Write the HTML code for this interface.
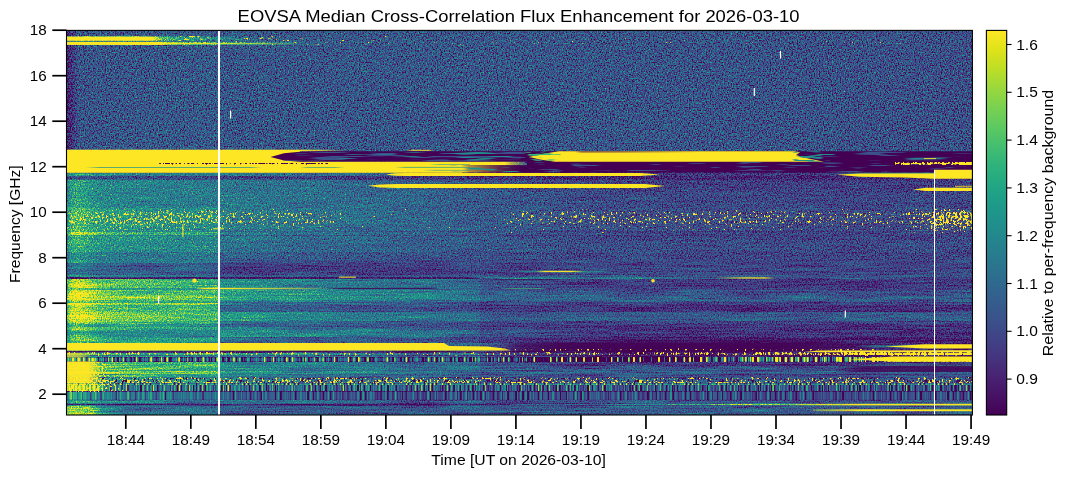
<!DOCTYPE html>
<html><head><meta charset="utf-8"><title>EOVSA Median Cross-Correlation Flux Enhancement</title>
<style>
html,body{margin:0;padding:0;background:#fff;}
body{width:1067px;height:477px;overflow:hidden;font-family:"Liberation Sans",sans-serif;}
svg{display:block;}
text{font-family:"Liberation Sans",sans-serif;fill:#000;}
#lbl{opacity:0.999;}
</style></head><body>
<svg width="1067" height="477" viewBox="0 0 1067 477">
<defs>
<linearGradient id="cbar" x1="0" y1="1" x2="0" y2="0">
<stop offset="0.00" stop-color="#440154"/>
<stop offset="0.05" stop-color="#471265"/>
<stop offset="0.10" stop-color="#482374"/>
<stop offset="0.15" stop-color="#45347f"/>
<stop offset="0.20" stop-color="#404387"/>
<stop offset="0.25" stop-color="#3a528b"/>
<stop offset="0.30" stop-color="#345e8d"/>
<stop offset="0.35" stop-color="#2e6b8e"/>
<stop offset="0.40" stop-color="#29788e"/>
<stop offset="0.45" stop-color="#24848d"/>
<stop offset="0.50" stop-color="#20908c"/>
<stop offset="0.55" stop-color="#1e9b89"/>
<stop offset="0.60" stop-color="#22a784"/>
<stop offset="0.65" stop-color="#2fb37b"/>
<stop offset="0.70" stop-color="#44be70"/>
<stop offset="0.75" stop-color="#5ec961"/>
<stop offset="0.80" stop-color="#79d151"/>
<stop offset="0.85" stop-color="#9ad83c"/>
<stop offset="0.90" stop-color="#bdde26"/>
<stop offset="0.95" stop-color="#dfe318"/>
<stop offset="1.00" stop-color="#fde724"/>
</linearGradient>
<clipPath id="axclip"><rect x="66.5" y="30.4" width="905.9" height="384.6"/></clipPath>
<linearGradient id="g1" gradientUnits="userSpaceOnUse" x1="66.5" y1="0" x2="972.4" y2="0"><stop offset="0.0006" stop-color="#141414"/><stop offset="0.0061" stop-color="#242424"/><stop offset="0.0127" stop-color="#424242"/><stop offset="0.1683" stop-color="#474747"/><stop offset="0.1694" stop-color="#444444"/><stop offset="0.4565" stop-color="#444444"/><stop offset="0.6993" stop-color="#424242"/><stop offset="0.9996" stop-color="#3d3d3d"/></linearGradient>
<linearGradient id="g2" gradientUnits="userSpaceOnUse" x1="66.5" y1="0" x2="972.4" y2="0"><stop offset="0.0006" stop-color="#ffffff"/><stop offset="0.0922" stop-color="#ffffff"/><stop offset="0.1010" stop-color="#cccccc"/><stop offset="0.1198" stop-color="#9e9e9e"/><stop offset="0.1529" stop-color="#808080"/><stop offset="0.1915" stop-color="#616161"/><stop offset="0.2302" stop-color="#474747"/><stop offset="0.9996" stop-color="#404040"/></linearGradient>
<linearGradient id="g3" gradientUnits="userSpaceOnUse" x1="66.5" y1="0" x2="972.4" y2="0"><stop offset="0.0006" stop-color="#595959"/><stop offset="0.0922" stop-color="#595959"/><stop offset="0.1474" stop-color="#4c4c4c"/><stop offset="0.9996" stop-color="#404040"/></linearGradient>
<linearGradient id="g4" gradientUnits="userSpaceOnUse" x1="66.5" y1="0" x2="972.4" y2="0"><stop offset="0.0006" stop-color="#ffffff"/><stop offset="0.1010" stop-color="#ffffff"/><stop offset="0.1120" stop-color="#d9d9d9"/><stop offset="0.1639" stop-color="#a8a8a8"/><stop offset="0.2136" stop-color="#858585"/><stop offset="0.2578" stop-color="#5c5c5c"/><stop offset="0.3019" stop-color="#474747"/><stop offset="0.9996" stop-color="#3d3d3d"/></linearGradient>
<linearGradient id="g5" gradientUnits="userSpaceOnUse" x1="66.5" y1="0" x2="972.4" y2="0"><stop offset="0.0006" stop-color="#666666"/><stop offset="0.0039" stop-color="#838383"/><stop offset="0.0116" stop-color="#949494"/><stop offset="0.0215" stop-color="#888888"/><stop offset="0.0370" stop-color="#757575"/><stop offset="0.0922" stop-color="#6b6b6b"/><stop offset="0.1682" stop-color="#666666"/><stop offset="0.1683" stop-color="#676767"/><stop offset="0.2136" stop-color="#606060"/><stop offset="0.2578" stop-color="#5c5c5c"/><stop offset="0.3681" stop-color="#4e4e4e"/><stop offset="0.4565" stop-color="#404040"/><stop offset="0.5889" stop-color="#2c2c2c"/><stop offset="0.6993" stop-color="#2b2b2b"/><stop offset="0.8759" stop-color="#292929"/><stop offset="0.9996" stop-color="#2b2b2b"/></linearGradient>
<linearGradient id="g6" gradientUnits="userSpaceOnUse" x1="66.5" y1="0" x2="972.4" y2="0"><stop offset="0.0006" stop-color="#373737"/><stop offset="0.0039" stop-color="#3c3c3c"/><stop offset="0.0116" stop-color="#3f3f3f"/><stop offset="0.0215" stop-color="#3d3d3d"/><stop offset="0.0370" stop-color="#3a3a3a"/><stop offset="0.0922" stop-color="#383838"/><stop offset="0.1682" stop-color="#373737"/><stop offset="0.1683" stop-color="#313131"/><stop offset="0.2136" stop-color="#2e2e2e"/><stop offset="0.2578" stop-color="#2b2b2b"/><stop offset="0.3681" stop-color="#262626"/><stop offset="0.4565" stop-color="#212121"/><stop offset="0.5889" stop-color="#1a1a1a"/><stop offset="0.6993" stop-color="#1a1a1a"/><stop offset="0.8759" stop-color="#181818"/><stop offset="0.9996" stop-color="#1a1a1a"/></linearGradient>
<linearGradient id="g7" gradientUnits="userSpaceOnUse" x1="66.5" y1="0" x2="972.4" y2="0"><stop offset="0.0006" stop-color="#696969"/><stop offset="0.0039" stop-color="#868686"/><stop offset="0.0116" stop-color="#979797"/><stop offset="0.0215" stop-color="#8b8b8b"/><stop offset="0.0370" stop-color="#787878"/><stop offset="0.0922" stop-color="#6e6e6e"/><stop offset="0.1682" stop-color="#696969"/><stop offset="0.1683" stop-color="#676767"/><stop offset="0.2136" stop-color="#606060"/><stop offset="0.2578" stop-color="#5c5c5c"/><stop offset="0.3681" stop-color="#4f4f4f"/><stop offset="0.4565" stop-color="#434343"/><stop offset="0.5889" stop-color="#313131"/><stop offset="0.6993" stop-color="#303030"/><stop offset="0.8759" stop-color="#2e2e2e"/><stop offset="0.9996" stop-color="#303030"/></linearGradient>
<linearGradient id="g8" gradientUnits="userSpaceOnUse" x1="66.5" y1="0" x2="972.4" y2="0"><stop offset="0.0006" stop-color="#696969"/><stop offset="0.0039" stop-color="#868686"/><stop offset="0.0116" stop-color="#979797"/><stop offset="0.0215" stop-color="#8b8b8b"/><stop offset="0.0370" stop-color="#787878"/><stop offset="0.0922" stop-color="#6e6e6e"/><stop offset="0.1682" stop-color="#696969"/><stop offset="0.1683" stop-color="#6a6a6a"/><stop offset="0.2136" stop-color="#636363"/><stop offset="0.2578" stop-color="#5e5e5e"/><stop offset="0.3681" stop-color="#535353"/><stop offset="0.4565" stop-color="#484848"/><stop offset="0.5889" stop-color="#393939"/><stop offset="0.6993" stop-color="#383838"/><stop offset="0.8759" stop-color="#353535"/><stop offset="0.9996" stop-color="#383838"/></linearGradient>
<linearGradient id="g9" gradientUnits="userSpaceOnUse" x1="66.5" y1="0" x2="972.4" y2="0"><stop offset="0.0006" stop-color="#797979"/><stop offset="0.0039" stop-color="#9f9f9f"/><stop offset="0.0116" stop-color="#b5b5b5"/><stop offset="0.0215" stop-color="#a6a6a6"/><stop offset="0.0370" stop-color="#8c8c8c"/><stop offset="0.0922" stop-color="#808080"/><stop offset="0.1682" stop-color="#797979"/><stop offset="0.1683" stop-color="#6d6d6d"/><stop offset="0.2136" stop-color="#666666"/><stop offset="0.2578" stop-color="#616161"/><stop offset="0.3681" stop-color="#565656"/><stop offset="0.4565" stop-color="#4a4a4a"/><stop offset="0.5889" stop-color="#3c3c3c"/><stop offset="0.6993" stop-color="#3b3b3b"/><stop offset="0.8759" stop-color="#383838"/><stop offset="0.9996" stop-color="#3b3b3b"/></linearGradient>
<linearGradient id="g10" gradientUnits="userSpaceOnUse" x1="66.5" y1="0" x2="972.4" y2="0"><stop offset="0.0006" stop-color="#7a7a7a"/><stop offset="0.0039" stop-color="#999999"/><stop offset="0.0116" stop-color="#aaaaaa"/><stop offset="0.0215" stop-color="#9e9e9e"/><stop offset="0.0370" stop-color="#8a8a8a"/><stop offset="0.0922" stop-color="#808080"/><stop offset="0.1682" stop-color="#7a7a7a"/><stop offset="0.1683" stop-color="#676767"/><stop offset="0.2136" stop-color="#606060"/><stop offset="0.2578" stop-color="#5c5c5c"/><stop offset="0.3681" stop-color="#515151"/><stop offset="0.4565" stop-color="#464646"/><stop offset="0.5889" stop-color="#373737"/><stop offset="0.6993" stop-color="#363636"/><stop offset="0.8759" stop-color="#333333"/><stop offset="0.9996" stop-color="#363636"/></linearGradient>
<linearGradient id="g11" gradientUnits="userSpaceOnUse" x1="66.5" y1="0" x2="972.4" y2="0"><stop offset="0.0006" stop-color="#999999"/><stop offset="0.0039" stop-color="#d4d4d4"/><stop offset="0.0116" stop-color="#f5f5f5"/><stop offset="0.0215" stop-color="#dedede"/><stop offset="0.0370" stop-color="#b7b7b7"/><stop offset="0.0922" stop-color="#a3a3a3"/><stop offset="0.1682" stop-color="#999999"/><stop offset="0.1683" stop-color="#6d6d6d"/><stop offset="0.2136" stop-color="#666666"/><stop offset="0.2578" stop-color="#616161"/><stop offset="0.3681" stop-color="#555555"/><stop offset="0.4565" stop-color="#494949"/><stop offset="0.5889" stop-color="#393939"/><stop offset="0.6993" stop-color="#383838"/><stop offset="0.8759" stop-color="#353535"/><stop offset="0.9996" stop-color="#383838"/></linearGradient>
<linearGradient id="g12" gradientUnits="userSpaceOnUse" x1="66.5" y1="0" x2="972.4" y2="0"><stop offset="0.0006" stop-color="#767676"/><stop offset="0.0039" stop-color="#939393"/><stop offset="0.0116" stop-color="#a4a4a4"/><stop offset="0.0215" stop-color="#989898"/><stop offset="0.0370" stop-color="#848484"/><stop offset="0.0922" stop-color="#7a7a7a"/><stop offset="0.1682" stop-color="#767676"/><stop offset="0.1683" stop-color="#616161"/><stop offset="0.2136" stop-color="#5b5b5b"/><stop offset="0.2578" stop-color="#575757"/><stop offset="0.3681" stop-color="#4e4e4e"/><stop offset="0.4565" stop-color="#464646"/><stop offset="0.5889" stop-color="#3c3c3c"/><stop offset="0.6993" stop-color="#3b3b3b"/><stop offset="0.8759" stop-color="#383838"/><stop offset="0.9996" stop-color="#3b3b3b"/></linearGradient>
<linearGradient id="g13" gradientUnits="userSpaceOnUse" x1="66.5" y1="0" x2="972.4" y2="0"><stop offset="0.0006" stop-color="#636363"/><stop offset="0.0039" stop-color="#757575"/><stop offset="0.0116" stop-color="#808080"/><stop offset="0.0215" stop-color="#787878"/><stop offset="0.0370" stop-color="#6c6c6c"/><stop offset="0.0922" stop-color="#666666"/><stop offset="0.1682" stop-color="#636363"/><stop offset="0.1683" stop-color="#505050"/><stop offset="0.2136" stop-color="#4b4b4b"/><stop offset="0.2578" stop-color="#474747"/><stop offset="0.3681" stop-color="#424242"/><stop offset="0.4565" stop-color="#3c3c3c"/><stop offset="0.5889" stop-color="#373737"/><stop offset="0.6993" stop-color="#363636"/><stop offset="0.8759" stop-color="#333333"/><stop offset="0.9996" stop-color="#363636"/></linearGradient>
<linearGradient id="g14" gradientUnits="userSpaceOnUse" x1="66.5" y1="0" x2="972.4" y2="0"><stop offset="0.0006" stop-color="#666666"/><stop offset="0.0039" stop-color="#868686"/><stop offset="0.0116" stop-color="#989898"/><stop offset="0.0215" stop-color="#8b8b8b"/><stop offset="0.0370" stop-color="#767676"/><stop offset="0.0922" stop-color="#6b6b6b"/><stop offset="0.1682" stop-color="#666666"/><stop offset="0.1683" stop-color="#454545"/><stop offset="0.2136" stop-color="#404040"/><stop offset="0.2578" stop-color="#3d3d3d"/><stop offset="0.3681" stop-color="#3b3b3b"/><stop offset="0.4565" stop-color="#393939"/><stop offset="0.5889" stop-color="#393939"/><stop offset="0.6993" stop-color="#383838"/><stop offset="0.8759" stop-color="#353535"/><stop offset="0.9996" stop-color="#383838"/></linearGradient>
<linearGradient id="g15" gradientUnits="userSpaceOnUse" x1="66.5" y1="0" x2="972.4" y2="0"><stop offset="0.0006" stop-color="#444444"/><stop offset="0.0039" stop-color="#595959"/><stop offset="0.0116" stop-color="#656565"/><stop offset="0.0215" stop-color="#5d5d5d"/><stop offset="0.0370" stop-color="#4f4f4f"/><stop offset="0.0922" stop-color="#474747"/><stop offset="0.1682" stop-color="#444444"/><stop offset="0.1683" stop-color="#313131"/><stop offset="0.2136" stop-color="#2e2e2e"/><stop offset="0.2578" stop-color="#2b2b2b"/><stop offset="0.3681" stop-color="#2d2d2d"/><stop offset="0.4565" stop-color="#2f2f2f"/><stop offset="0.5889" stop-color="#373737"/><stop offset="0.6993" stop-color="#363636"/><stop offset="0.8759" stop-color="#333333"/><stop offset="0.9996" stop-color="#363636"/></linearGradient>
<linearGradient id="g16" gradientUnits="userSpaceOnUse" x1="66.5" y1="0" x2="972.4" y2="0"><stop offset="0.0006" stop-color="#616161"/><stop offset="0.0039" stop-color="#808080"/><stop offset="0.0116" stop-color="#919191"/><stop offset="0.0215" stop-color="#858585"/><stop offset="0.0370" stop-color="#707070"/><stop offset="0.0922" stop-color="#666666"/><stop offset="0.1682" stop-color="#616161"/><stop offset="0.1683" stop-color="#4a4a4a"/><stop offset="0.2136" stop-color="#464646"/><stop offset="0.2578" stop-color="#424242"/><stop offset="0.3681" stop-color="#414141"/><stop offset="0.4565" stop-color="#404040"/><stop offset="0.5889" stop-color="#444444"/><stop offset="0.6993" stop-color="#424242"/><stop offset="0.8759" stop-color="#3f3f3f"/><stop offset="0.9996" stop-color="#424242"/></linearGradient>
<linearGradient id="g17" gradientUnits="userSpaceOnUse" x1="66.5" y1="0" x2="972.4" y2="0"><stop offset="0.0006" stop-color="#a6a6a6"/><stop offset="0.0039" stop-color="#dadada"/><stop offset="0.0116" stop-color="#f8f8f8"/><stop offset="0.0215" stop-color="#e3e3e3"/><stop offset="0.0370" stop-color="#c0c0c0"/><stop offset="0.0922" stop-color="#afafaf"/><stop offset="0.1682" stop-color="#a6a6a6"/><stop offset="0.1683" stop-color="#818181"/><stop offset="0.2136" stop-color="#777777"/><stop offset="0.2578" stop-color="#707070"/><stop offset="0.3681" stop-color="#5e5e5e"/><stop offset="0.4553" stop-color="#555555"/><stop offset="0.4576" stop-color="#444444"/><stop offset="0.5227" stop-color="#383838"/><stop offset="0.6110" stop-color="#2a2a2a"/><stop offset="0.6993" stop-color="#292929"/><stop offset="0.8759" stop-color="#272727"/><stop offset="0.9996" stop-color="#292929"/></linearGradient>
<linearGradient id="g18" gradientUnits="userSpaceOnUse" x1="66.5" y1="0" x2="972.4" y2="0"><stop offset="0.0006" stop-color="#828282"/><stop offset="0.0039" stop-color="#ababab"/><stop offset="0.0116" stop-color="#c2c2c2"/><stop offset="0.0215" stop-color="#b1b1b1"/><stop offset="0.0370" stop-color="#969696"/><stop offset="0.0922" stop-color="#888888"/><stop offset="0.1682" stop-color="#828282"/><stop offset="0.1683" stop-color="#757575"/><stop offset="0.2136" stop-color="#6c6c6c"/><stop offset="0.2578" stop-color="#666666"/><stop offset="0.3681" stop-color="#565656"/><stop offset="0.4553" stop-color="#4e4e4e"/><stop offset="0.4576" stop-color="#3e3e3e"/><stop offset="0.5227" stop-color="#3a3a3a"/><stop offset="0.6110" stop-color="#353535"/><stop offset="0.6993" stop-color="#333333"/><stop offset="0.8759" stop-color="#303030"/><stop offset="0.9996" stop-color="#333333"/></linearGradient>
<linearGradient id="g19" gradientUnits="userSpaceOnUse" x1="66.5" y1="0" x2="972.4" y2="0"><stop offset="0.0006" stop-color="#ababab"/><stop offset="0.0039" stop-color="#e1e1e1"/><stop offset="0.0116" stop-color="#ffffff"/><stop offset="0.0215" stop-color="#eaeaea"/><stop offset="0.0370" stop-color="#c6c6c6"/><stop offset="0.0922" stop-color="#b4b4b4"/><stop offset="0.1682" stop-color="#ababab"/><stop offset="0.1683" stop-color="#989898"/><stop offset="0.2136" stop-color="#8d8d8d"/><stop offset="0.2578" stop-color="#858585"/><stop offset="0.3681" stop-color="#6f6f6f"/><stop offset="0.4553" stop-color="#656565"/><stop offset="0.4576" stop-color="#515151"/><stop offset="0.5227" stop-color="#484848"/><stop offset="0.6110" stop-color="#404040"/><stop offset="0.6993" stop-color="#3d3d3d"/><stop offset="0.8759" stop-color="#3a3a3a"/><stop offset="0.9996" stop-color="#3d3d3d"/></linearGradient>
<linearGradient id="g20" gradientUnits="userSpaceOnUse" x1="66.5" y1="0" x2="972.4" y2="0"><stop offset="0.0006" stop-color="#c0c0c0"/><stop offset="0.0039" stop-color="#fcfcfc"/><stop offset="0.0116" stop-color="#ffffff"/><stop offset="0.0215" stop-color="#ffffff"/><stop offset="0.0370" stop-color="#dedede"/><stop offset="0.0922" stop-color="#cacaca"/><stop offset="0.1682" stop-color="#c0c0c0"/><stop offset="0.1683" stop-color="#a1a1a1"/><stop offset="0.2136" stop-color="#959595"/><stop offset="0.2578" stop-color="#8c8c8c"/><stop offset="0.3681" stop-color="#767676"/><stop offset="0.4553" stop-color="#6b6b6b"/><stop offset="0.4576" stop-color="#555555"/><stop offset="0.5227" stop-color="#535353"/><stop offset="0.6110" stop-color="#505050"/><stop offset="0.6993" stop-color="#4c4c4c"/><stop offset="0.8759" stop-color="#494949"/><stop offset="0.9996" stop-color="#4c4c4c"/></linearGradient>
<linearGradient id="g21" gradientUnits="userSpaceOnUse" x1="66.5" y1="0" x2="972.4" y2="0"><stop offset="0.0006" stop-color="#9c9c9c"/><stop offset="0.0039" stop-color="#cdcdcd"/><stop offset="0.0116" stop-color="#e8e8e8"/><stop offset="0.0215" stop-color="#d5d5d5"/><stop offset="0.0370" stop-color="#b4b4b4"/><stop offset="0.0922" stop-color="#a4a4a4"/><stop offset="0.1682" stop-color="#9c9c9c"/><stop offset="0.1683" stop-color="#7b7b7b"/><stop offset="0.2136" stop-color="#727272"/><stop offset="0.2578" stop-color="#6b6b6b"/><stop offset="0.3681" stop-color="#5a5a5a"/><stop offset="0.4553" stop-color="#515151"/><stop offset="0.4576" stop-color="#414141"/><stop offset="0.5227" stop-color="#494949"/><stop offset="0.6110" stop-color="#505050"/><stop offset="0.6993" stop-color="#4c4c4c"/><stop offset="0.8759" stop-color="#494949"/><stop offset="0.9996" stop-color="#4c4c4c"/></linearGradient>
<linearGradient id="g22" gradientUnits="userSpaceOnUse" x1="66.5" y1="0" x2="972.4" y2="0"><stop offset="0.0006" stop-color="#cacaca"/><stop offset="0.0039" stop-color="#ffffff"/><stop offset="0.0116" stop-color="#ffffff"/><stop offset="0.0215" stop-color="#ffffff"/><stop offset="0.0370" stop-color="#eaeaea"/><stop offset="0.0922" stop-color="#d5d5d5"/><stop offset="0.1682" stop-color="#cacaca"/><stop offset="0.1683" stop-color="#6a6a6a"/><stop offset="0.2136" stop-color="#616161"/><stop offset="0.2578" stop-color="#5c5c5c"/><stop offset="0.3681" stop-color="#4d4d4d"/><stop offset="0.4553" stop-color="#464646"/><stop offset="0.4576" stop-color="#383838"/><stop offset="0.5227" stop-color="#373737"/><stop offset="0.6110" stop-color="#353535"/><stop offset="0.6993" stop-color="#333333"/><stop offset="0.8759" stop-color="#303030"/><stop offset="0.9996" stop-color="#333333"/></linearGradient>
<linearGradient id="g23" gradientUnits="userSpaceOnUse" x1="66.5" y1="0" x2="972.4" y2="0"><stop offset="0.0006" stop-color="#9c9c9c"/><stop offset="0.0039" stop-color="#cdcdcd"/><stop offset="0.0116" stop-color="#e8e8e8"/><stop offset="0.0215" stop-color="#d5d5d5"/><stop offset="0.0370" stop-color="#b4b4b4"/><stop offset="0.0922" stop-color="#a4a4a4"/><stop offset="0.1682" stop-color="#9c9c9c"/><stop offset="0.1683" stop-color="#525252"/><stop offset="0.2136" stop-color="#4c4c4c"/><stop offset="0.2578" stop-color="#474747"/><stop offset="0.3681" stop-color="#3c3c3c"/><stop offset="0.4553" stop-color="#363636"/><stop offset="0.4576" stop-color="#2b2b2b"/><stop offset="0.5227" stop-color="#272727"/><stop offset="0.6110" stop-color="#222222"/><stop offset="0.6993" stop-color="#212121"/><stop offset="0.8759" stop-color="#1f1f1f"/><stop offset="0.9996" stop-color="#212121"/></linearGradient>
<linearGradient id="g24" gradientUnits="userSpaceOnUse" x1="66.5" y1="0" x2="972.4" y2="0"><stop offset="0.0006" stop-color="#b5b5b5"/><stop offset="0.0039" stop-color="#efefef"/><stop offset="0.0116" stop-color="#ffffff"/><stop offset="0.0215" stop-color="#f8f8f8"/><stop offset="0.0370" stop-color="#d2d2d2"/><stop offset="0.0922" stop-color="#bfbfbf"/><stop offset="0.1682" stop-color="#b5b5b5"/><stop offset="0.1683" stop-color="#878787"/><stop offset="0.2136" stop-color="#7c7c7c"/><stop offset="0.2578" stop-color="#757575"/><stop offset="0.3681" stop-color="#636363"/><stop offset="0.4553" stop-color="#595959"/><stop offset="0.4576" stop-color="#474747"/><stop offset="0.5227" stop-color="#494949"/><stop offset="0.6110" stop-color="#4a4a4a"/><stop offset="0.6993" stop-color="#474747"/><stop offset="0.8759" stop-color="#444444"/><stop offset="0.9996" stop-color="#474747"/></linearGradient>
<linearGradient id="g25" gradientUnits="userSpaceOnUse" x1="66.5" y1="0" x2="972.4" y2="0"><stop offset="0.0006" stop-color="#bbbbbb"/><stop offset="0.0039" stop-color="#f6f6f6"/><stop offset="0.0116" stop-color="#ffffff"/><stop offset="0.0215" stop-color="#ffffff"/><stop offset="0.0370" stop-color="#d8d8d8"/><stop offset="0.0922" stop-color="#c4c4c4"/><stop offset="0.1682" stop-color="#bbbbbb"/><stop offset="0.1683" stop-color="#8d8d8d"/><stop offset="0.2136" stop-color="#828282"/><stop offset="0.2578" stop-color="#7a7a7a"/><stop offset="0.3681" stop-color="#676767"/><stop offset="0.4553" stop-color="#5d5d5d"/><stop offset="0.4576" stop-color="#4a4a4a"/><stop offset="0.5227" stop-color="#4d4d4d"/><stop offset="0.6110" stop-color="#505050"/><stop offset="0.6993" stop-color="#4c4c4c"/><stop offset="0.8759" stop-color="#494949"/><stop offset="0.9996" stop-color="#4c4c4c"/></linearGradient>
<linearGradient id="g26" gradientUnits="userSpaceOnUse" x1="66.5" y1="0" x2="972.4" y2="0"><stop offset="0.0006" stop-color="#9c9c9c"/><stop offset="0.0039" stop-color="#cdcdcd"/><stop offset="0.0116" stop-color="#e8e8e8"/><stop offset="0.0215" stop-color="#d5d5d5"/><stop offset="0.0370" stop-color="#b4b4b4"/><stop offset="0.0922" stop-color="#a4a4a4"/><stop offset="0.1682" stop-color="#9c9c9c"/><stop offset="0.1683" stop-color="#646464"/><stop offset="0.2136" stop-color="#5c5c5c"/><stop offset="0.2578" stop-color="#575757"/><stop offset="0.3681" stop-color="#494949"/><stop offset="0.4553" stop-color="#424242"/><stop offset="0.4576" stop-color="#353535"/><stop offset="0.5227" stop-color="#353535"/><stop offset="0.6110" stop-color="#353535"/><stop offset="0.6993" stop-color="#333333"/><stop offset="0.8759" stop-color="#303030"/><stop offset="0.9996" stop-color="#333333"/></linearGradient>
<linearGradient id="g27" gradientUnits="userSpaceOnUse" x1="66.5" y1="0" x2="972.4" y2="0"><stop offset="0.0006" stop-color="#7c7c7c"/><stop offset="0.0039" stop-color="#a4a4a4"/><stop offset="0.0116" stop-color="#bababa"/><stop offset="0.0215" stop-color="#aaaaaa"/><stop offset="0.0370" stop-color="#909090"/><stop offset="0.0922" stop-color="#838383"/><stop offset="0.1682" stop-color="#7c7c7c"/><stop offset="0.1683" stop-color="#525252"/><stop offset="0.2136" stop-color="#4c4c4c"/><stop offset="0.2578" stop-color="#474747"/><stop offset="0.3681" stop-color="#3c3c3c"/><stop offset="0.4553" stop-color="#363636"/><stop offset="0.4576" stop-color="#2b2b2b"/><stop offset="0.5227" stop-color="#2a2a2a"/><stop offset="0.6110" stop-color="#282828"/><stop offset="0.6993" stop-color="#262626"/><stop offset="0.8759" stop-color="#242424"/><stop offset="0.9996" stop-color="#262626"/></linearGradient>
<linearGradient id="g28" gradientUnits="userSpaceOnUse" x1="66.5" y1="0" x2="972.4" y2="0"><stop offset="0.0006" stop-color="#969696"/><stop offset="0.0039" stop-color="#c6c6c6"/><stop offset="0.0116" stop-color="#e1e1e1"/><stop offset="0.0215" stop-color="#cecece"/><stop offset="0.0370" stop-color="#aeaeae"/><stop offset="0.0922" stop-color="#9e9e9e"/><stop offset="0.1682" stop-color="#969696"/><stop offset="0.1683" stop-color="#6a6a6a"/><stop offset="0.2136" stop-color="#616161"/><stop offset="0.2578" stop-color="#5c5c5c"/><stop offset="0.3681" stop-color="#4d4d4d"/><stop offset="0.4553" stop-color="#464646"/><stop offset="0.4576" stop-color="#383838"/><stop offset="0.5227" stop-color="#2f2f2f"/><stop offset="0.6110" stop-color="#252525"/><stop offset="0.6993" stop-color="#242424"/><stop offset="0.8759" stop-color="#222222"/><stop offset="0.9996" stop-color="#242424"/></linearGradient>
<linearGradient id="g29" gradientUnits="userSpaceOnUse" x1="66.5" y1="0" x2="972.4" y2="0"><stop offset="0.0006" stop-color="#6d6d6d"/><stop offset="0.0039" stop-color="#8f8f8f"/><stop offset="0.0116" stop-color="#a3a3a3"/><stop offset="0.0215" stop-color="#959595"/><stop offset="0.0370" stop-color="#7e7e7e"/><stop offset="0.0922" stop-color="#737373"/><stop offset="0.1682" stop-color="#6d6d6d"/><stop offset="0.1683" stop-color="#878787"/><stop offset="0.2136" stop-color="#7c7c7c"/><stop offset="0.2578" stop-color="#757575"/><stop offset="0.3681" stop-color="#636363"/><stop offset="0.4553" stop-color="#595959"/><stop offset="0.4576" stop-color="#474747"/><stop offset="0.5227" stop-color="#383838"/><stop offset="0.6110" stop-color="#282828"/><stop offset="0.6993" stop-color="#262626"/><stop offset="0.8759" stop-color="#242424"/><stop offset="0.9996" stop-color="#262626"/></linearGradient>
<linearGradient id="g30" gradientUnits="userSpaceOnUse" x1="66.5" y1="0" x2="972.4" y2="0"><stop offset="0.0006" stop-color="#878787"/><stop offset="0.0039" stop-color="#b1b1b1"/><stop offset="0.0116" stop-color="#c9c9c9"/><stop offset="0.0215" stop-color="#b8b8b8"/><stop offset="0.0370" stop-color="#9c9c9c"/><stop offset="0.0922" stop-color="#8e8e8e"/><stop offset="0.1682" stop-color="#878787"/><stop offset="0.1683" stop-color="#585858"/><stop offset="0.2136" stop-color="#515151"/><stop offset="0.2578" stop-color="#4c4c4c"/><stop offset="0.3681" stop-color="#404040"/><stop offset="0.4553" stop-color="#3a3a3a"/><stop offset="0.4576" stop-color="#2f2f2f"/><stop offset="0.5227" stop-color="#222222"/><stop offset="0.6110" stop-color="#151515"/><stop offset="0.6993" stop-color="#141414"/><stop offset="0.8759" stop-color="#131313"/><stop offset="0.9996" stop-color="#141414"/></linearGradient>
<linearGradient id="g31" gradientUnits="userSpaceOnUse" x1="66.5" y1="0" x2="972.4" y2="0"><stop offset="0.0006" stop-color="#0d0d0d"/><stop offset="0.4454" stop-color="#0f0f0f"/><stop offset="0.4631" stop-color="#737373"/><stop offset="0.5448" stop-color="#8c8c8c"/><stop offset="0.6331" stop-color="#808080"/><stop offset="0.6993" stop-color="#5c5c5c"/><stop offset="0.8097" stop-color="#575757"/><stop offset="0.9996" stop-color="#404040"/></linearGradient>
<linearGradient id="g32" gradientUnits="userSpaceOnUse" x1="66.5" y1="0" x2="972.4" y2="0"><stop offset="0.0006" stop-color="#7c7c7c"/><stop offset="0.0039" stop-color="#8f8f8f"/><stop offset="0.0116" stop-color="#9a9a9a"/><stop offset="0.0215" stop-color="#939393"/><stop offset="0.0370" stop-color="#868686"/><stop offset="0.0922" stop-color="#808080"/><stop offset="0.1682" stop-color="#7c7c7c"/><stop offset="0.1683" stop-color="#757575"/><stop offset="0.2136" stop-color="#6c6c6c"/><stop offset="0.2578" stop-color="#666666"/><stop offset="0.3681" stop-color="#565656"/><stop offset="0.4553" stop-color="#4e4e4e"/><stop offset="0.4576" stop-color="#3e3e3e"/><stop offset="0.5227" stop-color="#2c2c2c"/><stop offset="0.6110" stop-color="#1b1b1b"/><stop offset="0.6993" stop-color="#1a1a1a"/><stop offset="0.8759" stop-color="#181818"/><stop offset="0.9996" stop-color="#1a1a1a"/></linearGradient>
<linearGradient id="g33" gradientUnits="userSpaceOnUse" x1="66.5" y1="0" x2="972.4" y2="0"><stop offset="0.0006" stop-color="#0d0d0d"/><stop offset="0.4907" stop-color="#0d0d0d"/><stop offset="0.9996" stop-color="#1a1a1a"/></linearGradient>
<linearGradient id="g34" gradientUnits="userSpaceOnUse" x1="66.5" y1="0" x2="972.4" y2="0"><stop offset="0.0006" stop-color="#9a9a9a"/><stop offset="0.0039" stop-color="#b2b2b2"/><stop offset="0.0116" stop-color="#bfbfbf"/><stop offset="0.0215" stop-color="#b6b6b6"/><stop offset="0.0370" stop-color="#a6a6a6"/><stop offset="0.0922" stop-color="#9e9e9e"/><stop offset="0.1682" stop-color="#9a9a9a"/><stop offset="0.1683" stop-color="#939393"/><stop offset="0.2136" stop-color="#878787"/><stop offset="0.2578" stop-color="#808080"/><stop offset="0.3681" stop-color="#6b6b6b"/><stop offset="0.4553" stop-color="#616161"/><stop offset="0.4576" stop-color="#4e4e4e"/><stop offset="0.5227" stop-color="#303030"/><stop offset="0.6110" stop-color="#131313"/><stop offset="0.6993" stop-color="#121212"/><stop offset="0.8759" stop-color="#111111"/><stop offset="0.9996" stop-color="#121212"/></linearGradient>
<linearGradient id="g35" gradientUnits="userSpaceOnUse" x1="66.5" y1="0" x2="972.4" y2="0"><stop offset="0.0006" stop-color="#707070"/><stop offset="0.0039" stop-color="#818181"/><stop offset="0.0116" stop-color="#8b8b8b"/><stop offset="0.0215" stop-color="#848484"/><stop offset="0.0370" stop-color="#787878"/><stop offset="0.0922" stop-color="#737373"/><stop offset="0.1682" stop-color="#707070"/><stop offset="0.1683" stop-color="#6a6a6a"/><stop offset="0.2136" stop-color="#616161"/><stop offset="0.2578" stop-color="#5c5c5c"/><stop offset="0.3681" stop-color="#4d4d4d"/><stop offset="0.4553" stop-color="#464646"/><stop offset="0.4576" stop-color="#383838"/><stop offset="0.5227" stop-color="#232323"/><stop offset="0.6110" stop-color="#0d0d0d"/><stop offset="0.6993" stop-color="#0d0d0d"/><stop offset="0.8759" stop-color="#0c0c0c"/><stop offset="0.9996" stop-color="#0d0d0d"/></linearGradient>
<linearGradient id="g36" gradientUnits="userSpaceOnUse" x1="66.5" y1="0" x2="972.4" y2="0"><stop offset="0.0006" stop-color="#707070"/><stop offset="0.0039" stop-color="#818181"/><stop offset="0.0116" stop-color="#8b8b8b"/><stop offset="0.0215" stop-color="#848484"/><stop offset="0.0370" stop-color="#787878"/><stop offset="0.0922" stop-color="#737373"/><stop offset="0.1682" stop-color="#707070"/><stop offset="0.1683" stop-color="#6a6a6a"/><stop offset="0.2136" stop-color="#616161"/><stop offset="0.2578" stop-color="#5c5c5c"/><stop offset="0.3681" stop-color="#4d4d4d"/><stop offset="0.4553" stop-color="#464646"/><stop offset="0.4576" stop-color="#383838"/><stop offset="0.5227" stop-color="#313131"/><stop offset="0.6110" stop-color="#2a2a2a"/><stop offset="0.6993" stop-color="#292929"/><stop offset="0.8759" stop-color="#272727"/><stop offset="0.9996" stop-color="#292929"/></linearGradient>
<linearGradient id="g37" gradientUnits="userSpaceOnUse" x1="66.5" y1="0" x2="972.4" y2="0"><stop offset="0.0006" stop-color="#a5a5a5"/><stop offset="0.0039" stop-color="#d9d9d9"/><stop offset="0.0116" stop-color="#f6f6f6"/><stop offset="0.0215" stop-color="#e1e1e1"/><stop offset="0.0370" stop-color="#bfbfbf"/><stop offset="0.0922" stop-color="#adadad"/><stop offset="0.1682" stop-color="#a5a5a5"/><stop offset="0.1683" stop-color="#818181"/><stop offset="0.2136" stop-color="#777777"/><stop offset="0.2578" stop-color="#707070"/><stop offset="0.3681" stop-color="#5e5e5e"/><stop offset="0.4553" stop-color="#555555"/><stop offset="0.4576" stop-color="#444444"/><stop offset="0.5227" stop-color="#343434"/><stop offset="0.6110" stop-color="#222222"/><stop offset="0.6993" stop-color="#212121"/><stop offset="0.8759" stop-color="#1f1f1f"/><stop offset="0.9996" stop-color="#212121"/></linearGradient>
<linearGradient id="g38" gradientUnits="userSpaceOnUse" x1="66.5" y1="0" x2="972.4" y2="0"><stop offset="0.0006" stop-color="#a5a5a5"/><stop offset="0.0039" stop-color="#d9d9d9"/><stop offset="0.0116" stop-color="#f6f6f6"/><stop offset="0.0215" stop-color="#e1e1e1"/><stop offset="0.0370" stop-color="#bfbfbf"/><stop offset="0.0922" stop-color="#adadad"/><stop offset="0.1682" stop-color="#a5a5a5"/><stop offset="0.1683" stop-color="#818181"/><stop offset="0.2136" stop-color="#777777"/><stop offset="0.2578" stop-color="#707070"/><stop offset="0.3681" stop-color="#5e5e5e"/><stop offset="0.4553" stop-color="#555555"/><stop offset="0.4576" stop-color="#444444"/><stop offset="0.5227" stop-color="#444444"/><stop offset="0.6110" stop-color="#424242"/><stop offset="0.6993" stop-color="#404040"/><stop offset="0.8759" stop-color="#3d3d3d"/><stop offset="0.9996" stop-color="#404040"/></linearGradient>
<linearGradient id="g39" gradientUnits="userSpaceOnUse" x1="66.5" y1="0" x2="972.4" y2="0"><stop offset="0.0006" stop-color="#c2c2c2"/><stop offset="0.0039" stop-color="#ffffff"/><stop offset="0.0116" stop-color="#ffffff"/><stop offset="0.0215" stop-color="#ffffff"/><stop offset="0.0370" stop-color="#e0e0e0"/><stop offset="0.0922" stop-color="#cccccc"/><stop offset="0.1682" stop-color="#c2c2c2"/><stop offset="0.1683" stop-color="#939393"/><stop offset="0.2136" stop-color="#878787"/><stop offset="0.2578" stop-color="#808080"/><stop offset="0.3681" stop-color="#6b6b6b"/><stop offset="0.4553" stop-color="#616161"/><stop offset="0.4576" stop-color="#4e4e4e"/><stop offset="0.5227" stop-color="#4f4f4f"/><stop offset="0.6110" stop-color="#505050"/><stop offset="0.6993" stop-color="#4c4c4c"/><stop offset="0.8759" stop-color="#494949"/><stop offset="0.9996" stop-color="#4c4c4c"/></linearGradient>
<linearGradient id="g40" gradientUnits="userSpaceOnUse" x1="66.5" y1="0" x2="972.4" y2="0"><stop offset="0.0006" stop-color="#969696"/><stop offset="0.0039" stop-color="#c6c6c6"/><stop offset="0.0116" stop-color="#e1e1e1"/><stop offset="0.0215" stop-color="#cecece"/><stop offset="0.0370" stop-color="#aeaeae"/><stop offset="0.0922" stop-color="#9e9e9e"/><stop offset="0.1682" stop-color="#969696"/><stop offset="0.1683" stop-color="#757575"/><stop offset="0.2136" stop-color="#6c6c6c"/><stop offset="0.2578" stop-color="#666666"/><stop offset="0.3681" stop-color="#565656"/><stop offset="0.4553" stop-color="#4e4e4e"/><stop offset="0.4576" stop-color="#3e3e3e"/><stop offset="0.5227" stop-color="#3f3f3f"/><stop offset="0.6110" stop-color="#404040"/><stop offset="0.6993" stop-color="#3d3d3d"/><stop offset="0.8759" stop-color="#3a3a3a"/><stop offset="0.9996" stop-color="#3d3d3d"/></linearGradient>
<linearGradient id="g41" gradientUnits="userSpaceOnUse" x1="66.5" y1="0" x2="972.4" y2="0"><stop offset="0.0006" stop-color="#7c7c7c"/><stop offset="0.0039" stop-color="#8f8f8f"/><stop offset="0.0116" stop-color="#9a9a9a"/><stop offset="0.0215" stop-color="#939393"/><stop offset="0.0370" stop-color="#868686"/><stop offset="0.0922" stop-color="#808080"/><stop offset="0.1682" stop-color="#7c7c7c"/><stop offset="0.1683" stop-color="#757575"/><stop offset="0.2136" stop-color="#6c6c6c"/><stop offset="0.2578" stop-color="#666666"/><stop offset="0.3681" stop-color="#565656"/><stop offset="0.4553" stop-color="#4e4e4e"/><stop offset="0.4576" stop-color="#3e3e3e"/><stop offset="0.5227" stop-color="#474747"/><stop offset="0.6110" stop-color="#505050"/><stop offset="0.6993" stop-color="#4c4c4c"/><stop offset="0.8759" stop-color="#494949"/><stop offset="0.9996" stop-color="#4c4c4c"/></linearGradient>
<linearGradient id="g42" gradientUnits="userSpaceOnUse" x1="66.5" y1="0" x2="972.4" y2="0"><stop offset="0.0006" stop-color="#6f6f6f"/><stop offset="0.0039" stop-color="#939393"/><stop offset="0.0116" stop-color="#a7a7a7"/><stop offset="0.0215" stop-color="#989898"/><stop offset="0.0370" stop-color="#818181"/><stop offset="0.0922" stop-color="#757575"/><stop offset="0.1682" stop-color="#6f6f6f"/><stop offset="0.1683" stop-color="#6a6a6a"/><stop offset="0.2136" stop-color="#616161"/><stop offset="0.2578" stop-color="#5c5c5c"/><stop offset="0.3681" stop-color="#4d4d4d"/><stop offset="0.4553" stop-color="#464646"/><stop offset="0.4576" stop-color="#383838"/><stop offset="0.5227" stop-color="#3f3f3f"/><stop offset="0.6110" stop-color="#454545"/><stop offset="0.6993" stop-color="#424242"/><stop offset="0.8759" stop-color="#3f3f3f"/><stop offset="0.9996" stop-color="#424242"/></linearGradient>
<linearGradient id="g43" gradientUnits="userSpaceOnUse" x1="66.5" y1="0" x2="972.4" y2="0"><stop offset="0.0006" stop-color="#0a0a0a"/><stop offset="0.4785" stop-color="#0f0f0f"/><stop offset="0.5006" stop-color="#4c4c4c"/><stop offset="0.5889" stop-color="#5c5c5c"/><stop offset="0.6551" stop-color="#8c8c8c"/><stop offset="0.7655" stop-color="#d9d9d9"/><stop offset="0.9996" stop-color="#ffffff"/></linearGradient>
<linearGradient id="g44" gradientUnits="userSpaceOnUse" x1="66.5" y1="0" x2="972.4" y2="0"><stop offset="0.0006" stop-color="#cccccc"/><stop offset="0.0061" stop-color="#e0e0e0"/><stop offset="0.0281" stop-color="#cccccc"/><stop offset="0.0392" stop-color="#808080"/><stop offset="0.0646" stop-color="#5c5c5c"/><stop offset="0.1682" stop-color="#575757"/><stop offset="0.1683" stop-color="#474747"/><stop offset="0.9996" stop-color="#474747"/></linearGradient>
<linearGradient id="o45" gradientUnits="userSpaceOnUse" x1="66.5" y1="0" x2="972.4" y2="0"><stop offset="0.0006" stop-color="#fde725" stop-opacity="1"/><stop offset="0.0922" stop-color="#fde725" stop-opacity="1"/><stop offset="0.1054" stop-color="#fde725" stop-opacity="0"/></linearGradient>
<linearGradient id="o46" gradientUnits="userSpaceOnUse" x1="66.5" y1="0" x2="972.4" y2="0"><stop offset="0.0006" stop-color="#fde725" stop-opacity="1"/><stop offset="0.1010" stop-color="#fde725" stop-opacity="1"/><stop offset="0.1165" stop-color="#fde725" stop-opacity="0"/></linearGradient>
<linearGradient id="o47" gradientUnits="userSpaceOnUse" x1="66.5" y1="0" x2="972.4" y2="0"><stop offset="0.1032" stop-color="#fde725" stop-opacity="0.9"/><stop offset="0.1694" stop-color="#fde725" stop-opacity="0.7"/><stop offset="0.2158" stop-color="#fde725" stop-opacity="0.5"/><stop offset="0.2578" stop-color="#fde725" stop-opacity="0"/></linearGradient>
<linearGradient id="g49" gradientUnits="userSpaceOnUse" x1="66.5" y1="0" x2="972.4" y2="0"><stop offset="0.0006" stop-color="#000000"/><stop offset="0.1032" stop-color="#000000"/><stop offset="0.1253" stop-color="#292929"/><stop offset="0.2136" stop-color="#242424"/><stop offset="0.2578" stop-color="#1a1a1a"/><stop offset="0.4565" stop-color="#000000"/><stop offset="0.9996" stop-color="#000000"/></linearGradient>
<linearGradient id="g51" gradientUnits="userSpaceOnUse" x1="66.5" y1="0" x2="972.4" y2="0"><stop offset="0.0006" stop-color="#000000"/><stop offset="0.2578" stop-color="#000000"/><stop offset="0.3240" stop-color="#1a1a1a"/><stop offset="0.9996" stop-color="#141414"/></linearGradient>
<linearGradient id="o52" gradientUnits="userSpaceOnUse" x1="66.5" y1="0" x2="972.4" y2="0"><stop offset="0.2578" stop-color="#fde725" stop-opacity="1"/><stop offset="0.2798" stop-color="#fde725" stop-opacity="0.7"/><stop offset="0.3074" stop-color="#fde725" stop-opacity="0"/></linearGradient>
<linearGradient id="o53" gradientUnits="userSpaceOnUse" x1="66.5" y1="0" x2="972.4" y2="0"><stop offset="0.3748" stop-color="#fde725" stop-opacity="0"/><stop offset="0.3814" stop-color="#fde725" stop-opacity="0.9"/><stop offset="0.3991" stop-color="#fde725" stop-opacity="0.9"/><stop offset="0.4057" stop-color="#fde725" stop-opacity="0"/></linearGradient>
<linearGradient id="g55" gradientUnits="userSpaceOnUse" x1="66.5" y1="0" x2="972.4" y2="0"><stop offset="0.0006" stop-color="#000000"/><stop offset="0.2302" stop-color="#000000"/><stop offset="0.2578" stop-color="#424242"/><stop offset="0.3902" stop-color="#4c4c4c"/><stop offset="0.5006" stop-color="#575757"/><stop offset="0.5116" stop-color="#000000"/><stop offset="0.9996" stop-color="#000000"/></linearGradient>
<linearGradient id="g57" gradientUnits="userSpaceOnUse" x1="66.5" y1="0" x2="972.4" y2="0"><stop offset="0.0006" stop-color="#000000"/><stop offset="0.2302" stop-color="#000000"/><stop offset="0.2578" stop-color="#292929"/><stop offset="0.3902" stop-color="#333333"/><stop offset="0.5006" stop-color="#424242"/><stop offset="0.5116" stop-color="#000000"/><stop offset="0.9996" stop-color="#000000"/></linearGradient>
<linearGradient id="g59" gradientUnits="userSpaceOnUse" x1="66.5" y1="0" x2="972.4" y2="0"><stop offset="0.0006" stop-color="#000000"/><stop offset="0.5083" stop-color="#000000"/><stop offset="0.5172" stop-color="#383838"/><stop offset="0.6551" stop-color="#292929"/><stop offset="0.8097" stop-color="#383838"/><stop offset="0.8649" stop-color="#333333"/><stop offset="0.9996" stop-color="#1a1a1a"/></linearGradient>
<linearGradient id="g61" gradientUnits="userSpaceOnUse" x1="66.5" y1="0" x2="972.4" y2="0"><stop offset="0.0006" stop-color="#000000"/><stop offset="0.8097" stop-color="#000000"/><stop offset="0.8428" stop-color="#383838"/><stop offset="0.9996" stop-color="#2e2e2e"/></linearGradient>
<linearGradient id="o62" gradientUnits="userSpaceOnUse" x1="66.5" y1="0" x2="972.4" y2="0"><stop offset="0.4366" stop-color="#fde725" stop-opacity="1"/><stop offset="0.4840" stop-color="#fde725" stop-opacity="1"/><stop offset="0.4918" stop-color="#fde725" stop-opacity="0.6"/><stop offset="0.5083" stop-color="#fde725" stop-opacity="0"/></linearGradient>
<linearGradient id="o63" gradientUnits="userSpaceOnUse" x1="66.5" y1="0" x2="972.4" y2="0"><stop offset="0.4366" stop-color="#fde725" stop-opacity="1"/><stop offset="0.4454" stop-color="#fde725" stop-opacity="0.6"/><stop offset="0.4785" stop-color="#fde725" stop-opacity="0.15"/><stop offset="0.5006" stop-color="#fde725" stop-opacity="0"/></linearGradient>
<linearGradient id="g65" gradientUnits="userSpaceOnUse" x1="66.5" y1="0" x2="972.4" y2="0"><stop offset="0.0006" stop-color="#000000"/><stop offset="0.4123" stop-color="#000000"/><stop offset="0.4366" stop-color="#4c4c4c"/><stop offset="0.4785" stop-color="#474747"/><stop offset="0.5116" stop-color="#1a1a1a"/><stop offset="0.5448" stop-color="#000000"/><stop offset="0.9996" stop-color="#000000"/></linearGradient>
<linearGradient id="o66" gradientUnits="userSpaceOnUse" x1="66.5" y1="0" x2="972.4" y2="0"><stop offset="0.3626" stop-color="#21908c" stop-opacity="0"/><stop offset="0.3737" stop-color="#21908c" stop-opacity="0.9"/><stop offset="0.4454" stop-color="#21908c" stop-opacity="0.9"/></linearGradient>
<linearGradient id="o67" gradientUnits="userSpaceOnUse" x1="66.5" y1="0" x2="972.4" y2="0"><stop offset="0.4002" stop-color="#21908c" stop-opacity="0"/><stop offset="0.4123" stop-color="#21908c" stop-opacity="0.8"/><stop offset="0.4454" stop-color="#21908c" stop-opacity="0.8"/></linearGradient>
<linearGradient id="o68" gradientUnits="userSpaceOnUse" x1="66.5" y1="0" x2="972.4" y2="0"><stop offset="0.3924" stop-color="#21908c" stop-opacity="0"/><stop offset="0.4068" stop-color="#21908c" stop-opacity="0.8"/><stop offset="0.4454" stop-color="#21908c" stop-opacity="0.8"/></linearGradient>
<linearGradient id="g70" gradientUnits="userSpaceOnUse" x1="66.5" y1="0" x2="972.4" y2="0"><stop offset="0.0006" stop-color="#000000"/><stop offset="0.5006" stop-color="#000000"/><stop offset="0.5116" stop-color="#575757"/><stop offset="0.5448" stop-color="#4c4c4c"/><stop offset="0.5503" stop-color="#000000"/><stop offset="0.9996" stop-color="#000000"/></linearGradient>
<linearGradient id="g72" gradientUnits="userSpaceOnUse" x1="66.5" y1="0" x2="972.4" y2="0"><stop offset="0.0006" stop-color="#000000"/><stop offset="0.7931" stop-color="#000000"/><stop offset="0.8053" stop-color="#4c4c4c"/><stop offset="0.8428" stop-color="#474747"/><stop offset="0.8594" stop-color="#000000"/><stop offset="0.9996" stop-color="#000000"/></linearGradient>
<linearGradient id="o73" gradientUnits="userSpaceOnUse" x1="66.5" y1="0" x2="972.4" y2="0"><stop offset="0.5613" stop-color="#440154" stop-opacity="0"/><stop offset="0.5690" stop-color="#440154" stop-opacity="0.9"/><stop offset="0.6110" stop-color="#440154" stop-opacity="0.8"/><stop offset="0.6993" stop-color="#440154" stop-opacity="0"/></linearGradient>
<linearGradient id="g75" gradientUnits="userSpaceOnUse" x1="66.5" y1="0" x2="972.4" y2="0"><stop offset="0.0006" stop-color="#000000"/><stop offset="0.9090" stop-color="#000000"/><stop offset="0.9168" stop-color="#737373"/><stop offset="0.9808" stop-color="#808080"/><stop offset="0.9863" stop-color="#e6e6e6"/><stop offset="0.9996" stop-color="#e6e6e6"/></linearGradient>
<linearGradient id="o76" gradientUnits="userSpaceOnUse" x1="66.5" y1="0" x2="972.4" y2="0"><stop offset="0.9256" stop-color="#21908c" stop-opacity="0"/><stop offset="0.9366" stop-color="#21908c" stop-opacity="0.8"/><stop offset="0.9642" stop-color="#21908c" stop-opacity="0.8"/><stop offset="0.9731" stop-color="#21908c" stop-opacity="0"/></linearGradient>
<linearGradient id="o77" gradientUnits="userSpaceOnUse" x1="66.5" y1="0" x2="972.4" y2="0"><stop offset="0.8318" stop-color="#21908c" stop-opacity="0"/><stop offset="0.8649" stop-color="#21908c" stop-opacity="0.7"/><stop offset="0.9576" stop-color="#21908c" stop-opacity="0.7"/></linearGradient>
<linearGradient id="g79" gradientUnits="userSpaceOnUse" x1="66.5" y1="0" x2="972.4" y2="0"><stop offset="0.0006" stop-color="#000000"/><stop offset="0.0922" stop-color="#000000"/><stop offset="0.1087" stop-color="#6b6b6b"/><stop offset="0.2854" stop-color="#666666"/><stop offset="0.2964" stop-color="#000000"/><stop offset="0.9996" stop-color="#000000"/></linearGradient>
<linearGradient id="o80" gradientUnits="userSpaceOnUse" x1="66.5" y1="0" x2="972.4" y2="0"><stop offset="0.0204" stop-color="#21908c" stop-opacity="0"/><stop offset="0.0370" stop-color="#21908c" stop-opacity="0.9"/><stop offset="0.2026" stop-color="#21908c" stop-opacity="0.9"/><stop offset="0.2158" stop-color="#21908c" stop-opacity="0"/></linearGradient>
<linearGradient id="o81" gradientUnits="userSpaceOnUse" x1="66.5" y1="0" x2="972.4" y2="0"><stop offset="0.2578" stop-color="#21908c" stop-opacity="0"/><stop offset="0.2666" stop-color="#21908c" stop-opacity="0.8"/><stop offset="0.2964" stop-color="#21908c" stop-opacity="0.8"/><stop offset="0.3074" stop-color="#21908c" stop-opacity="0"/></linearGradient>
<linearGradient id="g83" gradientUnits="userSpaceOnUse" x1="66.5" y1="0" x2="972.4" y2="0"><stop offset="0.0006" stop-color="#1f1f1f"/><stop offset="0.0370" stop-color="#212121"/><stop offset="0.1750" stop-color="#212121"/><stop offset="0.1860" stop-color="#171717"/><stop offset="0.2909" stop-color="#141414"/><stop offset="0.3074" stop-color="#000000"/><stop offset="0.4785" stop-color="#000000"/><stop offset="0.4918" stop-color="#121212"/><stop offset="0.6993" stop-color="#141414"/><stop offset="0.9201" stop-color="#0f0f0f"/><stop offset="0.9477" stop-color="#1f1f1f"/><stop offset="0.9587" stop-color="#363636"/><stop offset="0.9996" stop-color="#3b3b3b"/></linearGradient>
<linearGradient id="g85" gradientUnits="userSpaceOnUse" x1="66.5" y1="0" x2="972.4" y2="0"><stop offset="0.0006" stop-color="#383838"/><stop offset="0.0370" stop-color="#3b3b3b"/><stop offset="0.1750" stop-color="#3b3b3b"/><stop offset="0.1860" stop-color="#303030"/><stop offset="0.2909" stop-color="#2e2e2e"/><stop offset="0.3074" stop-color="#080808"/><stop offset="0.4785" stop-color="#080808"/><stop offset="0.4918" stop-color="#2b2b2b"/><stop offset="0.6993" stop-color="#2e2e2e"/><stop offset="0.9201" stop-color="#292929"/><stop offset="0.9477" stop-color="#383838"/><stop offset="0.9587" stop-color="#4f4f4f"/><stop offset="0.9996" stop-color="#545454"/></linearGradient>
<linearGradient id="g87" gradientUnits="userSpaceOnUse" x1="66.5" y1="0" x2="972.4" y2="0"><stop offset="0.0006" stop-color="#212121"/><stop offset="0.0370" stop-color="#242424"/><stop offset="0.1750" stop-color="#242424"/><stop offset="0.1860" stop-color="#1a1a1a"/><stop offset="0.2909" stop-color="#171717"/><stop offset="0.3074" stop-color="#000000"/><stop offset="0.4785" stop-color="#000000"/><stop offset="0.4918" stop-color="#141414"/><stop offset="0.6993" stop-color="#171717"/><stop offset="0.9201" stop-color="#121212"/><stop offset="0.9477" stop-color="#212121"/><stop offset="0.9587" stop-color="#383838"/><stop offset="0.9996" stop-color="#3d3d3d"/></linearGradient>
<linearGradient id="g89" gradientUnits="userSpaceOnUse" x1="66.5" y1="0" x2="972.4" y2="0"><stop offset="0.0006" stop-color="#0f0f0f"/><stop offset="0.0370" stop-color="#121212"/><stop offset="0.1750" stop-color="#121212"/><stop offset="0.1860" stop-color="#080808"/><stop offset="0.2909" stop-color="#050505"/><stop offset="0.3074" stop-color="#000000"/><stop offset="0.4785" stop-color="#000000"/><stop offset="0.4918" stop-color="#030303"/><stop offset="0.6993" stop-color="#050505"/><stop offset="0.9201" stop-color="#000000"/><stop offset="0.9477" stop-color="#0f0f0f"/><stop offset="0.9587" stop-color="#262626"/><stop offset="0.9996" stop-color="#2b2b2b"/></linearGradient>
<linearGradient id="o90" gradientUnits="userSpaceOnUse" x1="66.5" y1="0" x2="972.4" y2="0"><stop offset="0.1441" stop-color="#fde725" stop-opacity="0.3"/><stop offset="0.1529" stop-color="#fde725" stop-opacity="1"/><stop offset="0.1750" stop-color="#fde725" stop-opacity="1"/><stop offset="0.2578" stop-color="#fde725" stop-opacity="0.5"/><stop offset="0.2909" stop-color="#fde725" stop-opacity="0"/></linearGradient>
<linearGradient id="o91" gradientUnits="userSpaceOnUse" x1="66.5" y1="0" x2="972.4" y2="0"><stop offset="0.2854" stop-color="#440154" stop-opacity="0"/><stop offset="0.3019" stop-color="#440154" stop-opacity="0.9"/><stop offset="0.4013" stop-color="#440154" stop-opacity="0.9"/><stop offset="0.4123" stop-color="#440154" stop-opacity="0"/></linearGradient>
<linearGradient id="o92" gradientUnits="userSpaceOnUse" x1="66.5" y1="0" x2="972.4" y2="0"><stop offset="0.4653" stop-color="#440154" stop-opacity="0"/><stop offset="0.4785" stop-color="#440154" stop-opacity="0.6"/><stop offset="0.5337" stop-color="#440154" stop-opacity="0.6"/><stop offset="0.5503" stop-color="#440154" stop-opacity="0"/></linearGradient>
<linearGradient id="o93" gradientUnits="userSpaceOnUse" x1="66.5" y1="0" x2="972.4" y2="0"><stop offset="0.4785" stop-color="#35b779" stop-opacity="0"/><stop offset="0.4896" stop-color="#35b779" stop-opacity="0.8"/><stop offset="0.5227" stop-color="#35b779" stop-opacity="0.8"/><stop offset="0.5315" stop-color="#35b779" stop-opacity="0"/></linearGradient>
<linearGradient id="o94" gradientUnits="userSpaceOnUse" x1="66.5" y1="0" x2="972.4" y2="0"><stop offset="0.4874" stop-color="#21908c" stop-opacity="0"/><stop offset="0.5061" stop-color="#21908c" stop-opacity="0.8"/><stop offset="0.5889" stop-color="#21908c" stop-opacity="0.8"/><stop offset="0.6022" stop-color="#21908c" stop-opacity="0"/></linearGradient>
<linearGradient id="o95" gradientUnits="userSpaceOnUse" x1="66.5" y1="0" x2="972.4" y2="0"><stop offset="0.5172" stop-color="#fde725" stop-opacity="0"/><stop offset="0.5282" stop-color="#fde725" stop-opacity="0.95"/><stop offset="0.5580" stop-color="#fde725" stop-opacity="0.95"/><stop offset="0.5724" stop-color="#fde725" stop-opacity="0"/></linearGradient>
<linearGradient id="o96" gradientUnits="userSpaceOnUse" x1="66.5" y1="0" x2="972.4" y2="0"><stop offset="0.7159" stop-color="#fde725" stop-opacity="0"/><stop offset="0.7490" stop-color="#fde725" stop-opacity="0.9"/><stop offset="0.7711" stop-color="#fde725" stop-opacity="0.9"/><stop offset="0.7821" stop-color="#fde725" stop-opacity="0"/></linearGradient>
<linearGradient id="o97" gradientUnits="userSpaceOnUse" x1="66.5" y1="0" x2="972.4" y2="0"><stop offset="0.4785" stop-color="#440154" stop-opacity="0.0"/><stop offset="0.5006" stop-color="#440154" stop-opacity="0.5"/><stop offset="0.5448" stop-color="#440154" stop-opacity="0.9"/><stop offset="0.8097" stop-color="#440154" stop-opacity="0.9"/><stop offset="0.8892" stop-color="#440154" stop-opacity="0.2"/></linearGradient>
<linearGradient id="o98" gradientUnits="userSpaceOnUse" x1="66.5" y1="0" x2="972.4" y2="0"><stop offset="0.5448" stop-color="#440154" stop-opacity="0"/><stop offset="0.6331" stop-color="#440154" stop-opacity="0.35"/><stop offset="0.8097" stop-color="#440154" stop-opacity="0.4"/><stop offset="0.8759" stop-color="#440154" stop-opacity="0"/></linearGradient>
<linearGradient id="g100" gradientUnits="userSpaceOnUse" x1="66.5" y1="0" x2="972.4" y2="0"><stop offset="0.0006" stop-color="#424242"/><stop offset="0.1683" stop-color="#3d3d3d"/><stop offset="0.4565" stop-color="#2e2e2e"/><stop offset="0.5006" stop-color="#383838"/><stop offset="0.6551" stop-color="#424242"/><stop offset="0.8097" stop-color="#525252"/><stop offset="0.8649" stop-color="#5c5c5c"/><stop offset="0.8870" stop-color="#808080"/><stop offset="0.9996" stop-color="#8c8c8c"/></linearGradient>
<linearGradient id="g102" gradientUnits="userSpaceOnUse" x1="66.5" y1="0" x2="972.4" y2="0"><stop offset="0.0006" stop-color="#bfbfbf"/><stop offset="0.0315" stop-color="#b2b2b2"/><stop offset="0.0425" stop-color="#5c5c5c"/><stop offset="0.1683" stop-color="#5c5c5c"/><stop offset="0.4565" stop-color="#424242"/><stop offset="0.4840" stop-color="#3d3d3d"/><stop offset="0.5061" stop-color="#3d3d3d"/><stop offset="0.9996" stop-color="#333333"/></linearGradient>
<linearGradient id="g104" gradientUnits="userSpaceOnUse" x1="66.5" y1="0" x2="972.4" y2="0"><stop offset="0.0006" stop-color="#808080"/><stop offset="0.5061" stop-color="#808080"/><stop offset="0.5282" stop-color="#4c4c4c"/><stop offset="0.6331" stop-color="#474747"/><stop offset="0.6993" stop-color="#5c5c5c"/><stop offset="0.9996" stop-color="#666666"/></linearGradient>
<linearGradient id="g106" gradientUnits="userSpaceOnUse" x1="66.5" y1="0" x2="972.4" y2="0"><stop offset="0.0006" stop-color="#333333"/><stop offset="0.6993" stop-color="#333333"/><stop offset="0.7435" stop-color="#666666"/><stop offset="0.8649" stop-color="#858585"/><stop offset="0.9201" stop-color="#cccccc"/><stop offset="0.9996" stop-color="#ffffff"/></linearGradient>
<linearGradient id="o107" gradientUnits="userSpaceOnUse" x1="66.5" y1="0" x2="972.4" y2="0"><stop offset="0.8704" stop-color="#21908c" stop-opacity="0"/><stop offset="0.8925" stop-color="#21908c" stop-opacity="0.7"/><stop offset="0.9256" stop-color="#21908c" stop-opacity="0.8"/><stop offset="0.9532" stop-color="#21908c" stop-opacity="0.3"/></linearGradient>
<linearGradient id="o108" gradientUnits="userSpaceOnUse" x1="66.5" y1="0" x2="972.4" y2="0"><stop offset="0.8483" stop-color="#440154" stop-opacity="0"/><stop offset="0.8781" stop-color="#440154" stop-opacity="0.7"/><stop offset="0.9996" stop-color="#440154" stop-opacity="0.8"/></linearGradient>
<linearGradient id="o109" gradientUnits="userSpaceOnUse" x1="66.5" y1="0" x2="972.4" y2="0"><stop offset="0.8704" stop-color="#21908c" stop-opacity="0"/><stop offset="0.8980" stop-color="#21908c" stop-opacity="0.7"/><stop offset="0.9996" stop-color="#21908c" stop-opacity="0.7"/></linearGradient>
<linearGradient id="g111" gradientUnits="userSpaceOnUse" x1="66.5" y1="0" x2="972.4" y2="0"><stop offset="0.0006" stop-color="#000000"/><stop offset="0.4785" stop-color="#000000"/><stop offset="0.4951" stop-color="#383838"/><stop offset="0.8097" stop-color="#3d3d3d"/><stop offset="0.8759" stop-color="#4c4c4c"/><stop offset="0.9996" stop-color="#000000"/></linearGradient>
<linearGradient id="g113" gradientUnits="userSpaceOnUse" x1="66.5" y1="0" x2="972.4" y2="0"><stop offset="0.0006" stop-color="#424242"/><stop offset="0.4565" stop-color="#404040"/><stop offset="0.5006" stop-color="#363636"/><stop offset="0.9996" stop-color="#363636"/></linearGradient>
<linearGradient id="g117" gradientUnits="userSpaceOnUse" x1="66.5" y1="0" x2="972.4" y2="0"><stop offset="0.0006" stop-color="#ffffff"/><stop offset="0.0326" stop-color="#ffffff"/><stop offset="0.0414" stop-color="#8c8c8c"/><stop offset="0.9996" stop-color="#808080"/></linearGradient>
<linearGradient id="g119" gradientUnits="userSpaceOnUse" x1="66.5" y1="0" x2="972.4" y2="0"><stop offset="0.0006" stop-color="#ffffff"/><stop offset="0.0326" stop-color="#ffffff"/><stop offset="0.0414" stop-color="#6b6b6b"/><stop offset="0.1683" stop-color="#616161"/><stop offset="0.4565" stop-color="#474747"/><stop offset="0.9996" stop-color="#3d3d3d"/></linearGradient>
<linearGradient id="g121" gradientUnits="userSpaceOnUse" x1="66.5" y1="0" x2="972.4" y2="0"><stop offset="0.0006" stop-color="#9e9e9e"/><stop offset="0.0370" stop-color="#6b6b6b"/><stop offset="0.1683" stop-color="#5c5c5c"/><stop offset="0.1694" stop-color="#474747"/><stop offset="0.4565" stop-color="#3d3d3d"/><stop offset="0.9996" stop-color="#383838"/></linearGradient>
<linearGradient id="o122" gradientUnits="userSpaceOnUse" x1="66.5" y1="0" x2="972.4" y2="0"><stop offset="0.8240" stop-color="#fde725" stop-opacity="0.3"/><stop offset="0.8759" stop-color="#fde725" stop-opacity="1"/><stop offset="0.9996" stop-color="#fde725" stop-opacity="1"/></linearGradient>
<linearGradient id="o123" gradientUnits="userSpaceOnUse" x1="66.5" y1="0" x2="972.4" y2="0"><stop offset="0.7876" stop-color="#fde725" stop-opacity="0"/><stop offset="0.8759" stop-color="#fde725" stop-opacity="0.9"/><stop offset="0.9996" stop-color="#fde725" stop-opacity="1"/></linearGradient>
<linearGradient id="o124" gradientUnits="userSpaceOnUse" x1="66.5" y1="0" x2="972.4" y2="0"><stop offset="0.0006" stop-color="#fde725" stop-opacity="0.9"/><stop offset="0.0237" stop-color="#fde725" stop-opacity="0.95"/><stop offset="0.0392" stop-color="#fde725" stop-opacity="0"/></linearGradient>
<linearGradient id="o125" gradientUnits="userSpaceOnUse" x1="66.5" y1="0" x2="972.4" y2="0"><stop offset="0.0006" stop-color="#fde725" stop-opacity="0.7"/><stop offset="0.0149" stop-color="#fde725" stop-opacity="0.6"/><stop offset="0.0281" stop-color="#fde725" stop-opacity="0"/></linearGradient>
<linearGradient id="g127" gradientUnits="userSpaceOnUse" x1="66.5" y1="0" x2="972.4" y2="0"><stop offset="0.0006" stop-color="#4c4c4c"/><stop offset="0.0315" stop-color="#4c4c4c"/><stop offset="0.0756" stop-color="#000000"/><stop offset="0.9996" stop-color="#000000"/></linearGradient>
<filter id="vz0" filterUnits="userSpaceOnUse" x="64.5" y="28.4" width="909.9" height="144.40" color-interpolation-filters="sRGB">
<feTurbulence type="fractalNoise" baseFrequency="0.77 0.69" numOctaves="3" seed="11" result="t"/><feColorMatrix in="t" type="matrix" values="0 0 0 1 0  0 0 0 1 0  0 0 0 1 0  0 0 0 0 1" result="n"/>

<feComposite in="SourceGraphic" in2="n" operator="arithmetic" k1="0.35" k2="0.825" k3="1.0" k4="-0.5"/>
<feComponentTransfer><feFuncR type="table" tableValues="0.267 0.275 0.280 0.283 0.283 0.279 0.273 0.265 0.254 0.243 0.230 0.218 0.207 0.194 0.184 0.173 0.164 0.155 0.145 0.136 0.128 0.122 0.119 0.123 0.135 0.158 0.186 0.220 0.267 0.312 0.369 0.422 0.478 0.546 0.606 0.678 0.741 0.804 0.876 0.936 0.993"/><feFuncG type="table" tableValues="0.005 0.038 0.073 0.111 0.141 0.175 0.205 0.233 0.265 0.292 0.322 0.347 0.372 0.399 0.422 0.449 0.471 0.493 0.519 0.541 0.567 0.589 0.611 0.637 0.659 0.684 0.705 0.726 0.749 0.768 0.789 0.806 0.821 0.838 0.851 0.864 0.873 0.882 0.891 0.899 0.906"/><feFuncB type="table" tableValues="0.329 0.365 0.397 0.432 0.458 0.483 0.502 0.517 0.530 0.539 0.546 0.550 0.553 0.556 0.557 0.558 0.558 0.558 0.557 0.554 0.551 0.546 0.539 0.529 0.518 0.502 0.485 0.466 0.441 0.416 0.383 0.352 0.318 0.276 0.237 0.190 0.150 0.115 0.095 0.108 0.144"/><feFuncA type="linear" slope="0" intercept="1"/></feComponentTransfer></filter>
<filter id="vz1" filterUnits="userSpaceOnUse" x="64.5" y="172.8" width="909.9" height="87.20" color-interpolation-filters="sRGB">
<feTurbulence type="fractalNoise" baseFrequency="0.77 0.69" numOctaves="3" seed="11" result="t"/><feColorMatrix in="t" type="matrix" values="0 0 0 1 0  0 0 0 1 0  0 0 0 1 0  0 0 0 0 1" result="n"/>
<feTurbulence type="fractalNoise" baseFrequency="0.018 0.62" numOctaves="2" seed="4" result="t2"/>
<feColorMatrix in="t2" type="matrix" values="0 0 0 1 0  0 0 0 1 0  0 0 0 1 0  0 0 0 0 1" result="h"/>
<feComposite in="n" in2="h" operator="arithmetic" k1="0" k2="1" k3="0.225" k4="-0.112" result="n"/>
<feComposite in="SourceGraphic" in2="n" operator="arithmetic" k1="0.3" k2="0.85" k3="0.8" k4="-0.4"/>
<feComponentTransfer><feFuncR type="table" tableValues="0.267 0.275 0.280 0.283 0.283 0.279 0.273 0.265 0.254 0.243 0.230 0.218 0.207 0.194 0.184 0.173 0.164 0.155 0.145 0.136 0.128 0.122 0.119 0.123 0.135 0.158 0.186 0.220 0.267 0.312 0.369 0.422 0.478 0.546 0.606 0.678 0.741 0.804 0.876 0.936 0.993"/><feFuncG type="table" tableValues="0.005 0.038 0.073 0.111 0.141 0.175 0.205 0.233 0.265 0.292 0.322 0.347 0.372 0.399 0.422 0.449 0.471 0.493 0.519 0.541 0.567 0.589 0.611 0.637 0.659 0.684 0.705 0.726 0.749 0.768 0.789 0.806 0.821 0.838 0.851 0.864 0.873 0.882 0.891 0.899 0.906"/><feFuncB type="table" tableValues="0.329 0.365 0.397 0.432 0.458 0.483 0.502 0.517 0.530 0.539 0.546 0.550 0.553 0.556 0.557 0.558 0.558 0.558 0.557 0.554 0.551 0.546 0.539 0.529 0.518 0.502 0.485 0.466 0.441 0.416 0.383 0.352 0.318 0.276 0.237 0.190 0.150 0.115 0.095 0.108 0.144"/><feFuncA type="linear" slope="0" intercept="1"/></feComponentTransfer></filter>
<filter id="vz2" filterUnits="userSpaceOnUse" x="64.5" y="260" width="909.9" height="91.40" color-interpolation-filters="sRGB">
<feTurbulence type="fractalNoise" baseFrequency="0.77 0.69" numOctaves="3" seed="11" result="t"/><feColorMatrix in="t" type="matrix" values="0 0 0 1 0  0 0 0 1 0  0 0 0 1 0  0 0 0 0 1" result="n"/>
<feTurbulence type="fractalNoise" baseFrequency="0.018 0.62" numOctaves="2" seed="4" result="t2"/>
<feColorMatrix in="t2" type="matrix" values="0 0 0 1 0  0 0 0 1 0  0 0 0 1 0  0 0 0 0 1" result="h"/>
<feComposite in="n" in2="h" operator="arithmetic" k1="0" k2="1" k3="0.500" k4="-0.250" result="n"/>
<feComposite in="SourceGraphic" in2="n" operator="arithmetic" k1="0.35" k2="0.825" k3="0.6" k4="-0.3"/>
<feComponentTransfer><feFuncR type="table" tableValues="0.267 0.275 0.280 0.283 0.283 0.279 0.273 0.265 0.254 0.243 0.230 0.218 0.207 0.194 0.184 0.173 0.164 0.155 0.145 0.136 0.128 0.122 0.119 0.123 0.135 0.158 0.186 0.220 0.267 0.312 0.369 0.422 0.478 0.546 0.606 0.678 0.741 0.804 0.876 0.936 0.993"/><feFuncG type="table" tableValues="0.005 0.038 0.073 0.111 0.141 0.175 0.205 0.233 0.265 0.292 0.322 0.347 0.372 0.399 0.422 0.449 0.471 0.493 0.519 0.541 0.567 0.589 0.611 0.637 0.659 0.684 0.705 0.726 0.749 0.768 0.789 0.806 0.821 0.838 0.851 0.864 0.873 0.882 0.891 0.899 0.906"/><feFuncB type="table" tableValues="0.329 0.365 0.397 0.432 0.458 0.483 0.502 0.517 0.530 0.539 0.546 0.550 0.553 0.556 0.557 0.558 0.558 0.558 0.557 0.554 0.551 0.546 0.539 0.529 0.518 0.502 0.485 0.466 0.441 0.416 0.383 0.352 0.318 0.276 0.237 0.190 0.150 0.115 0.095 0.108 0.144"/><feFuncA type="linear" slope="0" intercept="1"/></feComponentTransfer></filter>
<filter id="vz3" filterUnits="userSpaceOnUse" x="64.5" y="351.4" width="909.9" height="65.60" color-interpolation-filters="sRGB">
<feTurbulence type="fractalNoise" baseFrequency="0.77 0.69" numOctaves="3" seed="11" result="t"/><feColorMatrix in="t" type="matrix" values="0 0 0 1 0  0 0 0 1 0  0 0 0 1 0  0 0 0 0 1" result="n"/>
<feTurbulence type="fractalNoise" baseFrequency="0.018 0.62" numOctaves="2" seed="4" result="t2"/>
<feColorMatrix in="t2" type="matrix" values="0 0 0 1 0  0 0 0 1 0  0 0 0 1 0  0 0 0 0 1" result="h"/>
<feComposite in="n" in2="h" operator="arithmetic" k1="0" k2="1" k3="0.727" k4="-0.364" result="n"/>
<feComposite in="SourceGraphic" in2="n" operator="arithmetic" k1="0.35" k2="0.825" k3="0.55" k4="-0.275"/>
<feComponentTransfer><feFuncR type="table" tableValues="0.267 0.275 0.280 0.283 0.283 0.279 0.273 0.265 0.254 0.243 0.230 0.218 0.207 0.194 0.184 0.173 0.164 0.155 0.145 0.136 0.128 0.122 0.119 0.123 0.135 0.158 0.186 0.220 0.267 0.312 0.369 0.422 0.478 0.546 0.606 0.678 0.741 0.804 0.876 0.936 0.993"/><feFuncG type="table" tableValues="0.005 0.038 0.073 0.111 0.141 0.175 0.205 0.233 0.265 0.292 0.322 0.347 0.372 0.399 0.422 0.449 0.471 0.493 0.519 0.541 0.567 0.589 0.611 0.637 0.659 0.684 0.705 0.726 0.749 0.768 0.789 0.806 0.821 0.838 0.851 0.864 0.873 0.882 0.891 0.899 0.906"/><feFuncB type="table" tableValues="0.329 0.365 0.397 0.432 0.458 0.483 0.502 0.517 0.530 0.539 0.546 0.550 0.553 0.556 0.557 0.558 0.558 0.558 0.557 0.554 0.551 0.546 0.539 0.529 0.518 0.502 0.485 0.466 0.441 0.416 0.383 0.352 0.318 0.276 0.237 0.190 0.150 0.115 0.095 0.108 0.144"/><feFuncA type="linear" slope="0" intercept="1"/></feComponentTransfer></filter>
<filter id="s48" filterUnits="userSpaceOnUse" x="66.5" y="36" width="905.9" height="9.50" color-interpolation-filters="sRGB">
<feTurbulence type="fractalNoise" baseFrequency="0.2 0.5" numOctaves="2" seed="3" result="t"/><feColorMatrix in="t" type="matrix" values="0 0 0 1 0  0 0 0 1 0  0 0 0 1 0  0 0 0 0 1" result="n"/>
<feComposite in="SourceGraphic" in2="n" operator="arithmetic" k1="0" k2="1" k3="1" k4="0"/>
<feColorMatrix type="matrix" values="0 0 0 0 0.992  0 0 0 0 0.906  0 0 0 0 0.145  14 0 0 0 -11.200"/></filter>
<filter id="s50" filterUnits="userSpaceOnUse" x="66.5" y="41.5" width="905.9" height="2.00" color-interpolation-filters="sRGB">
<feTurbulence type="fractalNoise" baseFrequency="0.5 0.3" numOctaves="2" seed="5" result="t"/><feColorMatrix in="t" type="matrix" values="0 0 0 1 0  0 0 0 1 0  0 0 0 1 0  0 0 0 0 1" result="n"/>
<feComposite in="SourceGraphic" in2="n" operator="arithmetic" k1="0" k2="1" k3="1" k4="0"/>
<feColorMatrix type="matrix" values="0 0 0 0 0.992  0 0 0 0 0.906  0 0 0 0 0.145  14 0 0 0 -11.200"/></filter>
<filter id="s54" filterUnits="userSpaceOnUse" x="270" y="152" width="265" height="9.50" color-interpolation-filters="sRGB">
<feTurbulence type="fractalNoise" baseFrequency="0.02 0.55" numOctaves="2" seed="71" result="t"/><feColorMatrix in="t" type="matrix" values="0 0 0 1 0  0 0 0 1 0  0 0 0 1 0  0 0 0 0 1" result="n"/>
<feComposite in="SourceGraphic" in2="n" operator="arithmetic" k1="0" k2="1" k3="1" k4="0"/>
<feColorMatrix type="matrix" values="0 0 0 0 0.231  0 0 0 0 0.322  0 0 0 0 0.545  8 0 0 0 -6.400"/></filter>
<filter id="s56" filterUnits="userSpaceOnUse" x="270" y="152" width="265" height="9.50" color-interpolation-filters="sRGB">
<feTurbulence type="fractalNoise" baseFrequency="0.02 0.55" numOctaves="2" seed="72" result="t"/><feColorMatrix in="t" type="matrix" values="0 0 0 1 0  0 0 0 1 0  0 0 0 1 0  0 0 0 0 1" result="n"/>
<feComposite in="SourceGraphic" in2="n" operator="arithmetic" k1="0" k2="1" k3="1" k4="0"/>
<feColorMatrix type="matrix" values="0 0 0 0 0.129  0 0 0 0 0.565  0 0 0 0 0.549  8 0 0 0 -6.400"/></filter>
<filter id="s58" filterUnits="userSpaceOnUse" x="520" y="161.9" width="452.4" height="10.50" color-interpolation-filters="sRGB">
<feTurbulence type="fractalNoise" baseFrequency="0.03 0.6" numOctaves="2" seed="78" result="t"/><feColorMatrix in="t" type="matrix" values="0 0 0 1 0  0 0 0 1 0  0 0 0 1 0  0 0 0 0 1" result="n"/>
<feComposite in="SourceGraphic" in2="n" operator="arithmetic" k1="0" k2="1" k3="1" k4="0"/>
<feColorMatrix type="matrix" values="0 0 0 0 0.231  0 0 0 0 0.322  0 0 0 0 0.545  8 0 0 0 -6.400"/></filter>
<filter id="s60" filterUnits="userSpaceOnUse" x="795" y="151.5" width="177.39999999999998" height="18.50" color-interpolation-filters="sRGB">
<feTurbulence type="fractalNoise" baseFrequency="0.02 0.6" numOctaves="2" seed="79" result="t"/><feColorMatrix in="t" type="matrix" values="0 0 0 1 0  0 0 0 1 0  0 0 0 1 0  0 0 0 0 1" result="n"/>
<feComposite in="SourceGraphic" in2="n" operator="arithmetic" k1="0" k2="1" k3="1" k4="0"/>
<feColorMatrix type="matrix" values="0 0 0 0 0.231  0 0 0 0 0.322  0 0 0 0 0.545  8 0 0 0 -6.400"/></filter>
<filter id="s64" filterUnits="userSpaceOnUse" x="440" y="165.2" width="130" height="7.30" color-interpolation-filters="sRGB">
<feTurbulence type="fractalNoise" baseFrequency="0.03 0.5" numOctaves="2" seed="73" result="t"/><feColorMatrix in="t" type="matrix" values="0 0 0 1 0  0 0 0 1 0  0 0 0 1 0  0 0 0 0 1" result="n"/>
<feComposite in="SourceGraphic" in2="n" operator="arithmetic" k1="0" k2="1" k3="1" k4="0"/>
<feColorMatrix type="matrix" values="0 0 0 0 0.129  0 0 0 0 0.565  0 0 0 0 0.549  8 0 0 0 -6.400"/></filter>
<filter id="s69" filterUnits="userSpaceOnUse" x="515" y="151.3" width="55" height="10.50" color-interpolation-filters="sRGB">
<feTurbulence type="fractalNoise" baseFrequency="0.05 0.5" numOctaves="2" seed="74" result="t"/><feColorMatrix in="t" type="matrix" values="0 0 0 1 0  0 0 0 1 0  0 0 0 1 0  0 0 0 0 1" result="n"/>
<feComposite in="SourceGraphic" in2="n" operator="arithmetic" k1="0" k2="1" k3="1" k4="0"/>
<feColorMatrix type="matrix" values="0 0 0 0 0.208  0 0 0 0 0.718  0 0 0 0 0.475  8 0 0 0 -6.400"/></filter>
<filter id="s71" filterUnits="userSpaceOnUse" x="785" y="151.3" width="65" height="10.70" color-interpolation-filters="sRGB">
<feTurbulence type="fractalNoise" baseFrequency="0.04 0.5" numOctaves="2" seed="75" result="t"/><feColorMatrix in="t" type="matrix" values="0 0 0 1 0  0 0 0 1 0  0 0 0 1 0  0 0 0 0 1" result="n"/>
<feComposite in="SourceGraphic" in2="n" operator="arithmetic" k1="0" k2="1" k3="1" k4="0"/>
<feColorMatrix type="matrix" values="0 0 0 0 0.129  0 0 0 0 0.565  0 0 0 0 0.549  8 0 0 0 -6.400"/></filter>
<filter id="s74" filterUnits="userSpaceOnUse" x="885" y="162.4" width="87.39999999999998" height="2.30" color-interpolation-filters="sRGB">
<feTurbulence type="fractalNoise" baseFrequency="0.4 0.3" numOctaves="2" seed="76" result="t"/><feColorMatrix in="t" type="matrix" values="0 0 0 1 0  0 0 0 1 0  0 0 0 1 0  0 0 0 0 1" result="n"/>
<feComposite in="SourceGraphic" in2="n" operator="arithmetic" k1="0" k2="1" k3="1" k4="0"/>
<feColorMatrix type="matrix" values="0 0 0 0 0.992  0 0 0 0 0.906  0 0 0 0 0.145  14 0 0 0 -11.200"/></filter>
<filter id="s78" filterUnits="userSpaceOnUse" x="150" y="163.1" width="190" height="1.20" color-interpolation-filters="sRGB">
<feTurbulence type="fractalNoise" baseFrequency="0.5 0.2" numOctaves="2" seed="77" result="t"/><feColorMatrix in="t" type="matrix" values="0 0 0 1 0  0 0 0 1 0  0 0 0 1 0  0 0 0 0 1" result="n"/>
<feComposite in="SourceGraphic" in2="n" operator="arithmetic" k1="0" k2="1" k3="1" k4="0"/>
<feColorMatrix type="matrix" values="0 0 0 0 0.267  0 0 0 0 0.004  0 0 0 0 0.329  14 0 0 0 -11.200"/></filter>
<filter id="s82" filterUnits="userSpaceOnUse" x="66.5" y="209" width="905.9" height="2.50" color-interpolation-filters="sRGB">
<feTurbulence type="fractalNoise" baseFrequency="0.45 0.38" numOctaves="3" seed="21" result="t"/><feColorMatrix in="t" type="matrix" values="0 0 0 1 0  0 0 0 1 0  0 0 0 1 0  0 0 0 0 1" result="n"/>
<feComposite in="SourceGraphic" in2="n" operator="arithmetic" k1="0" k2="1" k3="1" k4="0"/>
<feColorMatrix type="matrix" values="0 0 0 0 0.992  0 0 0 0 0.906  0 0 0 0 0.145  14 0 0 0 -11.200"/></filter>
<filter id="s84" filterUnits="userSpaceOnUse" x="66.5" y="211.5" width="905.9" height="12.50" color-interpolation-filters="sRGB">
<feTurbulence type="fractalNoise" baseFrequency="0.45 0.38" numOctaves="3" seed="22" result="t"/><feColorMatrix in="t" type="matrix" values="0 0 0 1 0  0 0 0 1 0  0 0 0 1 0  0 0 0 0 1" result="n"/>
<feComposite in="SourceGraphic" in2="n" operator="arithmetic" k1="0" k2="1" k3="1" k4="0"/>
<feColorMatrix type="matrix" values="0 0 0 0 0.992  0 0 0 0 0.906  0 0 0 0 0.145  14 0 0 0 -11.200"/></filter>
<filter id="s86" filterUnits="userSpaceOnUse" x="66.5" y="224" width="905.9" height="5.50" color-interpolation-filters="sRGB">
<feTurbulence type="fractalNoise" baseFrequency="0.45 0.38" numOctaves="3" seed="23" result="t"/><feColorMatrix in="t" type="matrix" values="0 0 0 1 0  0 0 0 1 0  0 0 0 1 0  0 0 0 0 1" result="n"/>
<feComposite in="SourceGraphic" in2="n" operator="arithmetic" k1="0" k2="1" k3="1" k4="0"/>
<feColorMatrix type="matrix" values="0 0 0 0 0.992  0 0 0 0 0.906  0 0 0 0 0.145  14 0 0 0 -11.200"/></filter>
<filter id="s88" filterUnits="userSpaceOnUse" x="66.5" y="229.5" width="905.9" height="3.50" color-interpolation-filters="sRGB">
<feTurbulence type="fractalNoise" baseFrequency="0.45 0.38" numOctaves="3" seed="24" result="t"/><feColorMatrix in="t" type="matrix" values="0 0 0 1 0  0 0 0 1 0  0 0 0 1 0  0 0 0 0 1" result="n"/>
<feComposite in="SourceGraphic" in2="n" operator="arithmetic" k1="0" k2="1" k3="1" k4="0"/>
<feColorMatrix type="matrix" values="0 0 0 0 0.992  0 0 0 0 0.906  0 0 0 0 0.145  14 0 0 0 -11.200"/></filter>
<filter id="s99" filterUnits="userSpaceOnUse" x="66.5" y="352.4" width="905.9" height="3.00" color-interpolation-filters="sRGB">
<feTurbulence type="fractalNoise" baseFrequency="0.45 0.2" numOctaves="2" seed="31" result="t"/><feColorMatrix in="t" type="matrix" values="0 0 0 1 0  0 0 0 1 0  0 0 0 1 0  0 0 0 0 1" result="n"/>
<feComposite in="SourceGraphic" in2="n" operator="arithmetic" k1="0" k2="1" k3="1" k4="0"/>
<feColorMatrix type="matrix" values="0 0 0 0 0.992  0 0 0 0 0.906  0 0 0 0 0.145  14 0 0 0 -11.200"/></filter>
<filter id="v101" filterUnits="userSpaceOnUse" x="66.5" y="357.6" width="458.5" height="3.80" color-interpolation-filters="sRGB">
<feTurbulence type="fractalNoise" baseFrequency="0.36 0.0001" numOctaves="2" seed="32" result="t"/><feColorMatrix in="t" type="matrix" values="0 0 0 1 0  0 0 0 1 0  0 0 0 1 0  0 0 0 0 1" result="n"/>
<feComposite in="SourceGraphic" in2="n" operator="arithmetic" k1="0" k2="1" k3="3.6" k4="-1.8"/>
<feComponentTransfer><feFuncR type="table" tableValues="0.267 0.275 0.280 0.283 0.283 0.279 0.273 0.265 0.254 0.243 0.230 0.218 0.207 0.194 0.184 0.173 0.164 0.155 0.145 0.136 0.128 0.122 0.119 0.123 0.135 0.158 0.186 0.220 0.267 0.312 0.369 0.422 0.478 0.546 0.606 0.678 0.741 0.804 0.876 0.936 0.993"/><feFuncG type="table" tableValues="0.005 0.038 0.073 0.111 0.141 0.175 0.205 0.233 0.265 0.292 0.322 0.347 0.372 0.399 0.422 0.449 0.471 0.493 0.519 0.541 0.567 0.589 0.611 0.637 0.659 0.684 0.705 0.726 0.749 0.768 0.789 0.806 0.821 0.838 0.851 0.864 0.873 0.882 0.891 0.899 0.906"/><feFuncB type="table" tableValues="0.329 0.365 0.397 0.432 0.458 0.483 0.502 0.517 0.530 0.539 0.546 0.550 0.553 0.556 0.557 0.558 0.558 0.558 0.557 0.554 0.551 0.546 0.539 0.529 0.518 0.502 0.485 0.466 0.441 0.416 0.383 0.352 0.318 0.276 0.237 0.190 0.150 0.115 0.095 0.108 0.144"/><feFuncA type="linear" slope="0" intercept="1"/></feComponentTransfer></filter>
<filter id="v103" filterUnits="userSpaceOnUse" x="525" y="357.6" width="175" height="3.80" color-interpolation-filters="sRGB">
<feTurbulence type="fractalNoise" baseFrequency="0.36 0.0001" numOctaves="2" seed="35" result="t"/><feColorMatrix in="t" type="matrix" values="0 0 0 1 0  0 0 0 1 0  0 0 0 1 0  0 0 0 0 1" result="n"/>
<feComposite in="SourceGraphic" in2="n" operator="arithmetic" k1="0" k2="1" k3="8.0" k4="-4.6"/>
<feComponentTransfer><feFuncR type="table" tableValues="0.267 0.275 0.280 0.283 0.283 0.279 0.273 0.265 0.254 0.243 0.230 0.218 0.207 0.194 0.184 0.173 0.164 0.155 0.145 0.136 0.128 0.122 0.119 0.123 0.135 0.158 0.186 0.220 0.267 0.312 0.369 0.422 0.478 0.546 0.606 0.678 0.741 0.804 0.876 0.936 0.993"/><feFuncG type="table" tableValues="0.005 0.038 0.073 0.111 0.141 0.175 0.205 0.233 0.265 0.292 0.322 0.347 0.372 0.399 0.422 0.449 0.471 0.493 0.519 0.541 0.567 0.589 0.611 0.637 0.659 0.684 0.705 0.726 0.749 0.768 0.789 0.806 0.821 0.838 0.851 0.864 0.873 0.882 0.891 0.899 0.906"/><feFuncB type="table" tableValues="0.329 0.365 0.397 0.432 0.458 0.483 0.502 0.517 0.530 0.539 0.546 0.550 0.553 0.556 0.557 0.558 0.558 0.558 0.557 0.554 0.551 0.546 0.539 0.529 0.518 0.502 0.485 0.466 0.441 0.416 0.383 0.352 0.318 0.276 0.237 0.190 0.150 0.115 0.095 0.108 0.144"/><feFuncA type="linear" slope="0" intercept="1"/></feComponentTransfer></filter>
<filter id="v105" filterUnits="userSpaceOnUse" x="700" y="357.0" width="272.4" height="4.60" color-interpolation-filters="sRGB">
<feTurbulence type="fractalNoise" baseFrequency="0.33 0.0001" numOctaves="2" seed="34" result="t"/><feColorMatrix in="t" type="matrix" values="0 0 0 1 0  0 0 0 1 0  0 0 0 1 0  0 0 0 0 1" result="n"/>
<feComposite in="SourceGraphic" in2="n" operator="arithmetic" k1="0" k2="1" k3="7.0" k4="-3.5"/>
<feComponentTransfer><feFuncR type="table" tableValues="0.267 0.275 0.280 0.283 0.283 0.279 0.273 0.265 0.254 0.243 0.230 0.218 0.207 0.194 0.184 0.173 0.164 0.155 0.145 0.136 0.128 0.122 0.119 0.123 0.135 0.158 0.186 0.220 0.267 0.312 0.369 0.422 0.478 0.546 0.606 0.678 0.741 0.804 0.876 0.936 0.993"/><feFuncG type="table" tableValues="0.005 0.038 0.073 0.111 0.141 0.175 0.205 0.233 0.265 0.292 0.322 0.347 0.372 0.399 0.422 0.449 0.471 0.493 0.519 0.541 0.567 0.589 0.611 0.637 0.659 0.684 0.705 0.726 0.749 0.768 0.789 0.806 0.821 0.838 0.851 0.864 0.873 0.882 0.891 0.899 0.906"/><feFuncB type="table" tableValues="0.329 0.365 0.397 0.432 0.458 0.483 0.502 0.517 0.530 0.539 0.546 0.550 0.553 0.556 0.557 0.558 0.558 0.558 0.557 0.554 0.551 0.546 0.539 0.529 0.518 0.502 0.485 0.466 0.441 0.416 0.383 0.352 0.318 0.276 0.237 0.190 0.150 0.115 0.095 0.108 0.144"/><feFuncA type="linear" slope="0" intercept="1"/></feComponentTransfer></filter>
<filter id="s110" filterUnits="userSpaceOnUse" x="500" y="348.8" width="380" height="1.80" color-interpolation-filters="sRGB">
<feTurbulence type="fractalNoise" baseFrequency="0.4 0.2" numOctaves="2" seed="36" result="t"/><feColorMatrix in="t" type="matrix" values="0 0 0 1 0  0 0 0 1 0  0 0 0 1 0  0 0 0 0 1" result="n"/>
<feComposite in="SourceGraphic" in2="n" operator="arithmetic" k1="0" k2="1" k3="1" k4="0"/>
<feColorMatrix type="matrix" values="0 0 0 0 0.992  0 0 0 0 0.906  0 0 0 0 0.145  14 0 0 0 -11.200"/></filter>
<filter id="s112" filterUnits="userSpaceOnUse" x="66.5" y="377.4" width="905.9" height="4.80" color-interpolation-filters="sRGB">
<feTurbulence type="fractalNoise" baseFrequency="0.5 0.35" numOctaves="2" seed="41" result="t"/><feColorMatrix in="t" type="matrix" values="0 0 0 1 0  0 0 0 1 0  0 0 0 1 0  0 0 0 0 1" result="n"/>
<feComposite in="SourceGraphic" in2="n" operator="arithmetic" k1="0" k2="1" k3="1" k4="0"/>
<feColorMatrix type="matrix" values="0 0 0 0 0.992  0 0 0 0 0.906  0 0 0 0 0.145  14 0 0 0 -11.200"/></filter>
<filter id="s114" filterUnits="userSpaceOnUse" x="66.5" y="382.2" width="905.9" height="1.20" color-interpolation-filters="sRGB">
<feTurbulence type="fractalNoise" baseFrequency="0.5 0.2" numOctaves="2" seed="43" result="t"/><feColorMatrix in="t" type="matrix" values="0 0 0 1 0  0 0 0 1 0  0 0 0 1 0  0 0 0 0 1" result="n"/>
<feComposite in="SourceGraphic" in2="n" operator="arithmetic" k1="0" k2="1" k3="1" k4="0"/>
<feColorMatrix type="matrix" values="0 0 0 0 0.992  0 0 0 0 0.906  0 0 0 0 0.145  14 0 0 0 -11.200"/></filter>
<filter id="s115" filterUnits="userSpaceOnUse" x="66.5" y="377.4" width="905.9" height="6.00" color-interpolation-filters="sRGB">
<feTurbulence type="fractalNoise" baseFrequency="0.5 0.35" numOctaves="2" seed="42" result="t"/><feColorMatrix in="t" type="matrix" values="0 0 0 1 0  0 0 0 1 0  0 0 0 1 0  0 0 0 0 1" result="n"/>
<feComposite in="SourceGraphic" in2="n" operator="arithmetic" k1="0" k2="1" k3="1" k4="0"/>
<feColorMatrix type="matrix" values="0 0 0 0 0.267  0 0 0 0 0.004  0 0 0 0 0.329  14 0 0 0 -11.200"/></filter>
<filter id="v116" filterUnits="userSpaceOnUse" x="66.5" y="383.4" width="905.9" height="1.70" color-interpolation-filters="sRGB">
<feTurbulence type="fractalNoise" baseFrequency="0.5 0.0001" numOctaves="2" seed="50" result="t"/><feColorMatrix in="t" type="matrix" values="0 0 0 1 0  0 0 0 1 0  0 0 0 1 0  0 0 0 0 1" result="n"/>
<feComposite in="SourceGraphic" in2="n" operator="arithmetic" k1="0" k2="1" k3="3.0" k4="-1.5"/>
<feComponentTransfer><feFuncR type="table" tableValues="0.267 0.275 0.280 0.283 0.283 0.279 0.273 0.265 0.254 0.243 0.230 0.218 0.207 0.194 0.184 0.173 0.164 0.155 0.145 0.136 0.128 0.122 0.119 0.123 0.135 0.158 0.186 0.220 0.267 0.312 0.369 0.422 0.478 0.546 0.606 0.678 0.741 0.804 0.876 0.936 0.993"/><feFuncG type="table" tableValues="0.005 0.038 0.073 0.111 0.141 0.175 0.205 0.233 0.265 0.292 0.322 0.347 0.372 0.399 0.422 0.449 0.471 0.493 0.519 0.541 0.567 0.589 0.611 0.637 0.659 0.684 0.705 0.726 0.749 0.768 0.789 0.806 0.821 0.838 0.851 0.864 0.873 0.882 0.891 0.899 0.906"/><feFuncB type="table" tableValues="0.329 0.365 0.397 0.432 0.458 0.483 0.502 0.517 0.530 0.539 0.546 0.550 0.553 0.556 0.557 0.558 0.558 0.558 0.557 0.554 0.551 0.546 0.539 0.529 0.518 0.502 0.485 0.466 0.441 0.416 0.383 0.352 0.318 0.276 0.237 0.190 0.150 0.115 0.095 0.108 0.144"/><feFuncA type="linear" slope="0" intercept="1"/></feComponentTransfer></filter>
<filter id="v118" filterUnits="userSpaceOnUse" x="66.5" y="385.1" width="905.9" height="6.70" color-interpolation-filters="sRGB">
<feTurbulence type="fractalNoise" baseFrequency="0.47 0.0001" numOctaves="2" seed="51" result="t"/><feColorMatrix in="t" type="matrix" values="0 0 0 1 0  0 0 0 1 0  0 0 0 1 0  0 0 0 0 1" result="n"/>
<feComposite in="SourceGraphic" in2="n" operator="arithmetic" k1="0" k2="1" k3="2.4" k4="-1.2"/>
<feComponentTransfer><feFuncR type="table" tableValues="0.267 0.275 0.280 0.283 0.283 0.279 0.273 0.265 0.254 0.243 0.230 0.218 0.207 0.194 0.184 0.173 0.164 0.155 0.145 0.136 0.128 0.122 0.119 0.123 0.135 0.158 0.186 0.220 0.267 0.312 0.369 0.422 0.478 0.546 0.606 0.678 0.741 0.804 0.876 0.936 0.993"/><feFuncG type="table" tableValues="0.005 0.038 0.073 0.111 0.141 0.175 0.205 0.233 0.265 0.292 0.322 0.347 0.372 0.399 0.422 0.449 0.471 0.493 0.519 0.541 0.567 0.589 0.611 0.637 0.659 0.684 0.705 0.726 0.749 0.768 0.789 0.806 0.821 0.838 0.851 0.864 0.873 0.882 0.891 0.899 0.906"/><feFuncB type="table" tableValues="0.329 0.365 0.397 0.432 0.458 0.483 0.502 0.517 0.530 0.539 0.546 0.550 0.553 0.556 0.557 0.558 0.558 0.558 0.557 0.554 0.551 0.546 0.539 0.529 0.518 0.502 0.485 0.466 0.441 0.416 0.383 0.352 0.318 0.276 0.237 0.190 0.150 0.115 0.095 0.108 0.144"/><feFuncA type="linear" slope="0" intercept="1"/></feComponentTransfer></filter>
<filter id="v120" filterUnits="userSpaceOnUse" x="66.5" y="391.8" width="905.9" height="8.00" color-interpolation-filters="sRGB">
<feTurbulence type="fractalNoise" baseFrequency="0.40 0.0001" numOctaves="2" seed="54" result="t"/><feColorMatrix in="t" type="matrix" values="0 0 0 1 0  0 0 0 1 0  0 0 0 1 0  0 0 0 0 1" result="n"/>
<feComposite in="SourceGraphic" in2="n" operator="arithmetic" k1="0" k2="1" k3="1.5" k4="-0.75"/>
<feComponentTransfer><feFuncR type="table" tableValues="0.267 0.275 0.280 0.283 0.283 0.279 0.273 0.265 0.254 0.243 0.230 0.218 0.207 0.194 0.184 0.173 0.164 0.155 0.145 0.136 0.128 0.122 0.119 0.123 0.135 0.158 0.186 0.220 0.267 0.312 0.369 0.422 0.478 0.546 0.606 0.678 0.741 0.804 0.876 0.936 0.993"/><feFuncG type="table" tableValues="0.005 0.038 0.073 0.111 0.141 0.175 0.205 0.233 0.265 0.292 0.322 0.347 0.372 0.399 0.422 0.449 0.471 0.493 0.519 0.541 0.567 0.589 0.611 0.637 0.659 0.684 0.705 0.726 0.749 0.768 0.789 0.806 0.821 0.838 0.851 0.864 0.873 0.882 0.891 0.899 0.906"/><feFuncB type="table" tableValues="0.329 0.365 0.397 0.432 0.458 0.483 0.502 0.517 0.530 0.539 0.546 0.550 0.553 0.556 0.557 0.558 0.558 0.558 0.557 0.554 0.551 0.546 0.539 0.529 0.518 0.502 0.485 0.466 0.441 0.416 0.383 0.352 0.318 0.276 0.237 0.190 0.150 0.115 0.095 0.108 0.144"/><feFuncA type="linear" slope="0" intercept="1"/></feComponentTransfer></filter>
<filter id="s126" filterUnits="userSpaceOnUse" x="66.5" y="361.4" width="73.5" height="30.60" color-interpolation-filters="sRGB">
<feTurbulence type="fractalNoise" baseFrequency="0.5 0.5" numOctaves="2" seed="61" result="t"/><feColorMatrix in="t" type="matrix" values="0 0 0 1 0  0 0 0 1 0  0 0 0 1 0  0 0 0 0 1" result="n"/>
<feComposite in="SourceGraphic" in2="n" operator="arithmetic" k1="0" k2="1" k3="1" k4="0"/>
<feColorMatrix type="matrix" values="0 0 0 0 0.992  0 0 0 0 0.906  0 0 0 0 0.145  14 0 0 0 -11.200"/></filter>
</defs>
<rect x="0" y="0" width="1067" height="477" fill="#fff"/>
<g clip-path="url(#axclip)"><g filter="url(#vz0)"><rect x="66.5" y="29.40" width="905.9" height="120.60" fill="url(#g1)"/>
<rect x="66.5" y="36.60" width="905.9" height="4.10" fill="url(#g2)"/>
<rect x="66.5" y="40.70" width="905.9" height="1.20" fill="url(#g3)"/>
<rect x="66.5" y="41.90" width="905.9" height="2.90" fill="url(#g4)"/>
<rect x="66.5" y="150.00" width="905.9" height="22.80" fill="#474747"/></g>
<g filter="url(#vz1)"><rect x="66.5" y="172.80" width="905.9" height="3.70" fill="url(#g5)"/>
<rect x="66.5" y="176.50" width="905.9" height="3.00" fill="url(#g6)"/>
<rect x="66.5" y="179.50" width="905.9" height="12.50" fill="url(#g7)"/>
<rect x="66.5" y="192.00" width="905.9" height="16.00" fill="url(#g8)"/>
<rect x="66.5" y="208.00" width="905.9" height="23.50" fill="url(#g9)"/>
<rect x="66.5" y="235.50" width="905.9" height="5.50" fill="url(#g10)"/>
<rect x="66.5" y="231.50" width="905.9" height="4.00" fill="url(#g11)"/>
<rect x="66.5" y="241.00" width="905.9" height="11.00" fill="url(#g12)"/>
<rect x="66.5" y="252.00" width="905.9" height="8.00" fill="url(#g13)"/></g>
<g filter="url(#vz2)"><rect x="66.5" y="260.00" width="905.9" height="3.00" fill="url(#g14)"/>
<rect x="66.5" y="263.00" width="905.9" height="12.00" fill="url(#g15)"/>
<rect x="66.5" y="275.00" width="905.9" height="2.30" fill="url(#g16)"/>
<rect x="66.5" y="278.80" width="905.9" height="9.20" fill="url(#g17)"/>
<rect x="66.5" y="288.00" width="905.9" height="1.20" fill="url(#g18)"/>
<rect x="66.5" y="289.20" width="905.9" height="6.80" fill="url(#g19)"/>
<rect x="66.5" y="296.00" width="905.9" height="4.00" fill="url(#g20)"/>
<rect x="66.5" y="300.00" width="905.9" height="2.50" fill="url(#g21)"/>
<rect x="66.5" y="302.50" width="905.9" height="2.50" fill="url(#g22)"/>
<rect x="66.5" y="305.00" width="905.9" height="7.00" fill="url(#g23)"/>
<rect x="66.5" y="312.00" width="905.9" height="5.00" fill="url(#g24)"/>
<rect x="66.5" y="317.00" width="905.9" height="4.00" fill="url(#g25)"/>
<rect x="66.5" y="321.00" width="905.9" height="3.00" fill="url(#g26)"/>
<rect x="66.5" y="324.00" width="905.9" height="3.00" fill="url(#g27)"/>
<rect x="66.5" y="327.00" width="905.9" height="3.00" fill="url(#g28)"/>
<rect x="66.5" y="330.00" width="905.9" height="7.00" fill="url(#g29)"/>
<rect x="66.5" y="337.00" width="905.9" height="6.00" fill="url(#g30)"/>
<rect x="66.5" y="277.30" width="905.9" height="1.50" fill="url(#g31)"/>
<rect x="66.5" y="343.00" width="905.9" height="8.40" fill="url(#g32)"/></g>
<g filter="url(#vz3)"><rect x="66.5" y="351.40" width="905.9" height="1.40" fill="url(#g33)"/>
<rect x="66.5" y="352.80" width="905.9" height="2.50" fill="url(#g34)"/>
<rect x="66.5" y="355.30" width="905.9" height="2.30" fill="url(#g35)"/>
<rect x="66.5" y="357.60" width="905.9" height="3.80" fill="url(#g36)"/>
<rect x="66.5" y="361.40" width="905.9" height="4.60" fill="url(#g37)"/>
<rect x="66.5" y="366.00" width="905.9" height="4.50" fill="url(#g38)"/>
<rect x="66.5" y="370.50" width="905.9" height="4.00" fill="url(#g39)"/>
<rect x="66.5" y="374.50" width="905.9" height="2.90" fill="url(#g40)"/>
<rect x="66.5" y="377.40" width="905.9" height="6.40" fill="url(#g41)"/>
<rect x="66.5" y="383.80" width="905.9" height="16.40" fill="#595959"/>
<rect x="66.5" y="400.20" width="905.9" height="3.60" fill="url(#g42)"/>
<rect x="66.5" y="403.80" width="905.9" height="1.60" fill="url(#g43)"/>
<rect x="66.5" y="405.40" width="905.9" height="10.60" fill="url(#g44)"/></g>
<rect x="66.50" y="36.60" width="95.50" height="4.10" fill="url(#o45)" />
<rect x="66.50" y="41.90" width="105.50" height="2.90" fill="url(#o46)" />
<rect x="160.00" y="43.00" width="140.00" height="1.20" fill="url(#o47)" />
<rect x="66.5" y="36.00" width="905.9" height="9.50" fill="url(#g49)" filter="url(#s48)"/>
<rect x="66.5" y="41.50" width="905.9" height="2.00" fill="url(#g51)" filter="url(#s50)"/>
<rect x="66.50" y="149.70" width="233.50" height="23.10" fill="#fde725" />
<rect x="300.00" y="149.70" width="45.00" height="1.60" fill="url(#o52)" />
<rect x="406.00" y="149.80" width="28.00" height="1.00" fill="url(#o53)" />
<polygon points="270.5,157.0 284.0,153.2 300.0,151.8 320.0,151.3 972.0,151.3 972.0,172.5 527.0,172.5 527.0,161.8 300.0,161.8 284.0,160.4" fill="#440154" />
<rect x="270" y="152.00" width="265" height="9.50" fill="url(#g55)" filter="url(#s54)"/>
<rect x="270" y="152.00" width="265" height="9.50" fill="url(#g57)" filter="url(#s56)"/>
<rect x="520" y="161.90" width="452.4" height="10.50" fill="url(#g59)" filter="url(#s58)"/>
<rect x="795" y="151.50" width="177.39999999999998" height="18.50" fill="url(#g61)" filter="url(#s60)"/>
<rect x="300.00" y="161.80" width="162.00" height="11.00" fill="#fde725" />
<rect x="462.00" y="161.80" width="65.00" height="3.40" fill="url(#o62)" />
<rect x="462.00" y="165.20" width="65.00" height="7.30" fill="#440154" />
<rect x="462.00" y="165.20" width="58.00" height="7.30" fill="url(#o63)" />
<rect x="440" y="165.20" width="130" height="7.30" fill="url(#g65)" filter="url(#s64)"/>
<rect x="395.00" y="166.90" width="75.00" height="0.80" fill="url(#o66)" />
<rect x="429.00" y="164.00" width="41.00" height="0.70" fill="url(#o67)" />
<rect x="422.00" y="169.90" width="48.00" height="0.70" fill="url(#o68)" />
<polygon points="386.0,174.5 395.0,173.3 406.0,173.1 640.0,173.1 660.0,174.6 640.0,176.0 406.0,176.0 395.0,175.8" fill="#fde725" />
<polygon points="529.0,157.0 538.0,155.0 548.0,153.0 559.0,151.3 794.0,151.3 800.0,152.2 796.0,155.0 806.0,158.0 824.0,161.8 555.0,161.8 540.0,159.5" fill="#fde725" />
<rect x="515" y="151.30" width="55" height="10.50" fill="url(#g70)" filter="url(#s69)"/>
<rect x="785" y="151.30" width="65" height="10.70" fill="url(#g72)" filter="url(#s71)"/>
<rect x="575.00" y="151.50" width="125.00" height="0.90" fill="url(#o73)" />
<rect x="885" y="162.40" width="87.39999999999998" height="2.30" fill="url(#g75)" filter="url(#s74)"/>
<rect x="905.00" y="157.80" width="43.00" height="1.50" fill="url(#o76)" />
<rect x="924.00" y="158.00" width="12.00" height="1.10" fill="#fde725" opacity="0.8"/>
<polygon points="837.0,174.8 860.0,173.2 934.0,173.1 934.0,169.7 972.0,169.7 972.0,178.7 934.0,178.7 905.0,177.6 860.0,176.8" fill="#fde725" />
<rect x="820.00" y="172.60" width="114.00" height="1.00" fill="url(#o77)" />
<rect x="150" y="163.10" width="190" height="1.20" fill="url(#g79)" filter="url(#s78)"/>
<rect x="85.00" y="167.10" width="177.00" height="0.80" fill="url(#o80)" />
<rect x="300.00" y="167.10" width="45.00" height="0.80" fill="url(#o81)" />
<polygon points="368.0,185.8 380.0,184.5 398.0,184.0 645.0,184.0 665.0,186.0 645.0,188.0 398.0,188.0 380.0,187.4" fill="#fde725" />
<polygon points="913.0,189.4 926.0,187.7 972.0,187.7 972.0,191.1 926.0,191.1" fill="#fde725" />
<rect x="955.00" y="185.80" width="17.00" height="0.80" fill="#fde725" />
<rect x="66.5" y="209.00" width="905.9" height="2.50" fill="url(#g83)" filter="url(#s82)"/>
<rect x="66.5" y="211.50" width="905.9" height="12.50" fill="url(#g85)" filter="url(#s84)"/>
<rect x="66.5" y="224.00" width="905.9" height="5.50" fill="url(#g87)" filter="url(#s86)"/>
<rect x="66.5" y="229.50" width="905.9" height="3.50" fill="url(#g89)" filter="url(#s88)"/>
<rect x="197.00" y="287.80" width="133.00" height="1.40" fill="url(#o90)" />
<rect x="325.00" y="287.80" width="115.00" height="1.10" fill="url(#o91)" />
<rect x="339.00" y="276.60" width="17.00" height="1.20" fill="#fde725" opacity="0.8"/>
<rect x="488.00" y="279.00" width="77.00" height="1.20" fill="url(#o92)" />
<rect x="500.00" y="288.10" width="48.00" height="1.00" fill="url(#o93)" />
<rect x="508.00" y="270.80" width="104.00" height="1.30" fill="url(#o94)" />
<rect x="535.00" y="270.80" width="50.00" height="1.30" fill="url(#o95)" />
<rect x="715.00" y="277.30" width="60.00" height="1.30" fill="url(#o96)" />
<circle cx="194.5" cy="280.6" r="2.2" fill="#fde725"/><circle cx="653" cy="280.8" r="1.8" fill="#fde725"/>
<polygon points="66.5,343.0 444.0,343.0 449.0,346.0 487.0,346.4 505.0,348.6 511.0,350.6 66.5,350.6" fill="#fde725" />
<rect x="500.00" y="342.50" width="372.00" height="8.90" fill="url(#o97)" />
<rect x="560.00" y="339.50" width="300.00" height="3.00" fill="url(#o98)" />
<rect x="66.5" y="352.40" width="905.9" height="3.00" fill="url(#g100)" filter="url(#s99)"/>
<rect x="66.5" y="357.60" width="458.5" height="3.80" fill="url(#g102)" filter="url(#v101)"/>
<rect x="525" y="357.60" width="175" height="3.80" fill="url(#g104)" filter="url(#v103)"/>
<rect x="700" y="357.00" width="272.4" height="4.60" fill="url(#g106)" filter="url(#v105)"/>
<rect x="855.00" y="345.20" width="75.00" height="2.20" fill="url(#o107)" />
<polygon points="885.0,346.4 925.0,344.2 972.0,344.2 972.0,348.5 925.0,348.5" fill="#fde725" />
<polygon points="805.0,351.4 820.0,350.5 972.0,350.3 972.0,352.3 820.0,352.3" fill="#fde725" />
<polygon points="850.0,359.2 893.0,356.6 972.0,356.6 972.0,361.7 893.0,361.7" fill="#fde725" />
<rect x="835.00" y="366.00" width="137.00" height="6.00" fill="url(#o108)" />
<rect x="855.00" y="364.50" width="117.00" height="1.00" fill="url(#o109)" />
<rect x="500" y="348.80" width="380" height="1.80" fill="url(#g111)" filter="url(#s110)"/>
<rect x="66.5" y="377.40" width="905.9" height="4.80" fill="url(#g113)" filter="url(#s112)"/>
<rect x="66.5" y="382.20" width="905.9" height="1.20" fill="#575757" filter="url(#s114)"/>
<rect x="66.5" y="377.40" width="905.9" height="6.00" fill="#383838" filter="url(#s115)"/>
<rect x="66.5" y="383.40" width="905.9" height="1.70" fill="url(#g117)" filter="url(#v116)"/>
<rect x="66.5" y="385.10" width="905.9" height="6.70" fill="url(#g119)" filter="url(#v118)"/>
<rect x="66.5" y="391.80" width="905.9" height="8.00" fill="url(#g121)" filter="url(#v120)"/>
<rect x="813.00" y="409.30" width="159.00" height="1.90" fill="url(#o122)" />
<rect x="780.00" y="403.80" width="192.00" height="1.60" fill="url(#o123)" />
<rect x="66.50" y="361.40" width="33.50" height="22.00" fill="url(#o124)" />
<rect x="66.50" y="352.80" width="25.50" height="4.80" fill="url(#o125)" />
<rect x="66.5" y="361.40" width="73.5" height="30.60" fill="url(#g127)" filter="url(#s126)"/>
<rect x="182.40" y="224.00" width="1.00" height="13.00" fill="#fde725" />
<rect x="213.00" y="228.30" width="11.00" height="1.00" fill="#fde725" />
<rect x="218.00" y="30.40" width="2.00" height="384.60" fill="#fff" />
<rect x="934.00" y="170.10" width="1.00" height="244.90" fill="#fff" />
<rect x="230.00" y="110.50" width="1.20" height="8.00" fill="#fff" />
<rect x="779.90" y="51.00" width="1.20" height="7.50" fill="#fff" />
<rect x="753.70" y="88.00" width="1.20" height="8.00" fill="#fff" />
<rect x="158.00" y="296.00" width="1.20" height="7.80" fill="#fff" />
<rect x="844.70" y="310.50" width="1.20" height="7.00" fill="#fff" /></g>
<rect x="66.5" y="30.4" width="905.9" height="384.6" fill="none" stroke="#000" stroke-width="1.1"/>
<g id="lbl">
<line x1="125.80" y1="415.0" x2="125.80" y2="428.9" stroke="#000" stroke-width="1.7"/>
<text x="125.80" y="445" font-size="14.3" text-anchor="middle" textLength="38.2" lengthAdjust="spacingAndGlyphs">18:44</text>
<line x1="190.82" y1="415.0" x2="190.82" y2="428.9" stroke="#000" stroke-width="1.7"/>
<text x="190.82" y="445" font-size="14.3" text-anchor="middle" textLength="38.2" lengthAdjust="spacingAndGlyphs">18:49</text>
<line x1="255.84" y1="415.0" x2="255.84" y2="428.9" stroke="#000" stroke-width="1.7"/>
<text x="255.84" y="445" font-size="14.3" text-anchor="middle" textLength="38.2" lengthAdjust="spacingAndGlyphs">18:54</text>
<line x1="320.86" y1="415.0" x2="320.86" y2="428.9" stroke="#000" stroke-width="1.7"/>
<text x="320.86" y="445" font-size="14.3" text-anchor="middle" textLength="38.2" lengthAdjust="spacingAndGlyphs">18:59</text>
<line x1="385.88" y1="415.0" x2="385.88" y2="428.9" stroke="#000" stroke-width="1.7"/>
<text x="385.88" y="445" font-size="14.3" text-anchor="middle" textLength="38.2" lengthAdjust="spacingAndGlyphs">19:04</text>
<line x1="450.90" y1="415.0" x2="450.90" y2="428.9" stroke="#000" stroke-width="1.7"/>
<text x="450.90" y="445" font-size="14.3" text-anchor="middle" textLength="38.2" lengthAdjust="spacingAndGlyphs">19:09</text>
<line x1="515.92" y1="415.0" x2="515.92" y2="428.9" stroke="#000" stroke-width="1.7"/>
<text x="515.92" y="445" font-size="14.3" text-anchor="middle" textLength="38.2" lengthAdjust="spacingAndGlyphs">19:14</text>
<line x1="580.94" y1="415.0" x2="580.94" y2="428.9" stroke="#000" stroke-width="1.7"/>
<text x="580.94" y="445" font-size="14.3" text-anchor="middle" textLength="38.2" lengthAdjust="spacingAndGlyphs">19:19</text>
<line x1="645.96" y1="415.0" x2="645.96" y2="428.9" stroke="#000" stroke-width="1.7"/>
<text x="645.96" y="445" font-size="14.3" text-anchor="middle" textLength="38.2" lengthAdjust="spacingAndGlyphs">19:24</text>
<line x1="710.98" y1="415.0" x2="710.98" y2="428.9" stroke="#000" stroke-width="1.7"/>
<text x="710.98" y="445" font-size="14.3" text-anchor="middle" textLength="38.2" lengthAdjust="spacingAndGlyphs">19:29</text>
<line x1="776.00" y1="415.0" x2="776.00" y2="428.9" stroke="#000" stroke-width="1.7"/>
<text x="776.00" y="445" font-size="14.3" text-anchor="middle" textLength="38.2" lengthAdjust="spacingAndGlyphs">19:34</text>
<line x1="841.02" y1="415.0" x2="841.02" y2="428.9" stroke="#000" stroke-width="1.7"/>
<text x="841.02" y="445" font-size="14.3" text-anchor="middle" textLength="38.2" lengthAdjust="spacingAndGlyphs">19:39</text>
<line x1="906.04" y1="415.0" x2="906.04" y2="428.9" stroke="#000" stroke-width="1.7"/>
<text x="906.04" y="445" font-size="14.3" text-anchor="middle" textLength="38.2" lengthAdjust="spacingAndGlyphs">19:44</text>
<line x1="971.06" y1="415.0" x2="971.06" y2="428.9" stroke="#000" stroke-width="1.7"/>
<text x="971.06" y="445" font-size="14.3" text-anchor="middle" textLength="38.2" lengthAdjust="spacingAndGlyphs">19:49</text>
<line x1="52.3" y1="394.20" x2="66.5" y2="394.20" stroke="#000" stroke-width="1.7"/>
<text x="46.6" y="399.30" font-size="14.3" text-anchor="end" textLength="8.4" lengthAdjust="spacingAndGlyphs">2</text>
<line x1="52.3" y1="348.70" x2="66.5" y2="348.70" stroke="#000" stroke-width="1.7"/>
<text x="46.6" y="353.80" font-size="14.3" text-anchor="end" textLength="8.4" lengthAdjust="spacingAndGlyphs">4</text>
<line x1="52.3" y1="303.20" x2="66.5" y2="303.20" stroke="#000" stroke-width="1.7"/>
<text x="46.6" y="308.30" font-size="14.3" text-anchor="end" textLength="8.4" lengthAdjust="spacingAndGlyphs">6</text>
<line x1="52.3" y1="257.70" x2="66.5" y2="257.70" stroke="#000" stroke-width="1.7"/>
<text x="46.6" y="262.80" font-size="14.3" text-anchor="end" textLength="8.4" lengthAdjust="spacingAndGlyphs">8</text>
<line x1="52.3" y1="212.20" x2="66.5" y2="212.20" stroke="#000" stroke-width="1.7"/>
<text x="46.6" y="217.30" font-size="14.3" text-anchor="end" textLength="16.9" lengthAdjust="spacingAndGlyphs">10</text>
<line x1="52.3" y1="166.70" x2="66.5" y2="166.70" stroke="#000" stroke-width="1.7"/>
<text x="46.6" y="171.80" font-size="14.3" text-anchor="end" textLength="16.9" lengthAdjust="spacingAndGlyphs">12</text>
<line x1="52.3" y1="121.20" x2="66.5" y2="121.20" stroke="#000" stroke-width="1.7"/>
<text x="46.6" y="126.30" font-size="14.3" text-anchor="end" textLength="16.9" lengthAdjust="spacingAndGlyphs">14</text>
<line x1="52.3" y1="75.70" x2="66.5" y2="75.70" stroke="#000" stroke-width="1.7"/>
<text x="46.6" y="80.80" font-size="14.3" text-anchor="end" textLength="16.9" lengthAdjust="spacingAndGlyphs">16</text>
<line x1="52.3" y1="30.20" x2="66.5" y2="30.20" stroke="#000" stroke-width="1.7"/>
<text x="46.6" y="35.30" font-size="14.3" text-anchor="end" textLength="16.9" lengthAdjust="spacingAndGlyphs">18</text>
<text x="518.6" y="21.9" font-size="17.2" text-anchor="middle" textLength="562" lengthAdjust="spacingAndGlyphs">EOVSA Median Cross-Correlation Flux Enhancement for 2026-03-10</text>
<text x="518.6" y="464.5" font-size="14.3" text-anchor="middle" textLength="174.5" lengthAdjust="spacingAndGlyphs">Time [UT on 2026-03-10]</text>
<text transform="translate(19.8,224.2) rotate(-90)" font-size="14.3" text-anchor="middle" textLength="117.5" lengthAdjust="spacingAndGlyphs">Frequency [GHz]</text>
<rect x="986.4" y="30.4" width="20.300000000000068" height="384.6" fill="url(#cbar)" stroke="#000" stroke-width="1.1"/>
<line x1="1006.7" y1="379.10" x2="1011.6" y2="379.10" stroke="#000" stroke-width="1.1"/>
<text x="1016.2" y="384.20" font-size="14.3" textLength="21.6" lengthAdjust="spacingAndGlyphs">0.9</text>
<line x1="1006.7" y1="331.30" x2="1011.6" y2="331.30" stroke="#000" stroke-width="1.1"/>
<text x="1016.2" y="336.40" font-size="14.3" textLength="21.6" lengthAdjust="spacingAndGlyphs">1.0</text>
<line x1="1006.7" y1="283.50" x2="1011.6" y2="283.50" stroke="#000" stroke-width="1.1"/>
<text x="1016.2" y="288.60" font-size="14.3" textLength="21.6" lengthAdjust="spacingAndGlyphs">1.1</text>
<line x1="1006.7" y1="235.70" x2="1011.6" y2="235.70" stroke="#000" stroke-width="1.1"/>
<text x="1016.2" y="240.80" font-size="14.3" textLength="21.6" lengthAdjust="spacingAndGlyphs">1.2</text>
<line x1="1006.7" y1="187.90" x2="1011.6" y2="187.90" stroke="#000" stroke-width="1.1"/>
<text x="1016.2" y="193.00" font-size="14.3" textLength="21.6" lengthAdjust="spacingAndGlyphs">1.3</text>
<line x1="1006.7" y1="140.10" x2="1011.6" y2="140.10" stroke="#000" stroke-width="1.1"/>
<text x="1016.2" y="145.20" font-size="14.3" textLength="21.6" lengthAdjust="spacingAndGlyphs">1.4</text>
<line x1="1006.7" y1="92.30" x2="1011.6" y2="92.30" stroke="#000" stroke-width="1.1"/>
<text x="1016.2" y="97.40" font-size="14.3" textLength="21.6" lengthAdjust="spacingAndGlyphs">1.5</text>
<line x1="1006.7" y1="44.50" x2="1011.6" y2="44.50" stroke="#000" stroke-width="1.1"/>
<text x="1016.2" y="49.60" font-size="14.3" textLength="21.6" lengthAdjust="spacingAndGlyphs">1.6</text>
<text transform="translate(1053.1,223) rotate(-90)" font-size="14.3" text-anchor="middle" textLength="266.5" lengthAdjust="spacingAndGlyphs">Relative to per-frequency background</text>
</g>
</svg></body></html>
